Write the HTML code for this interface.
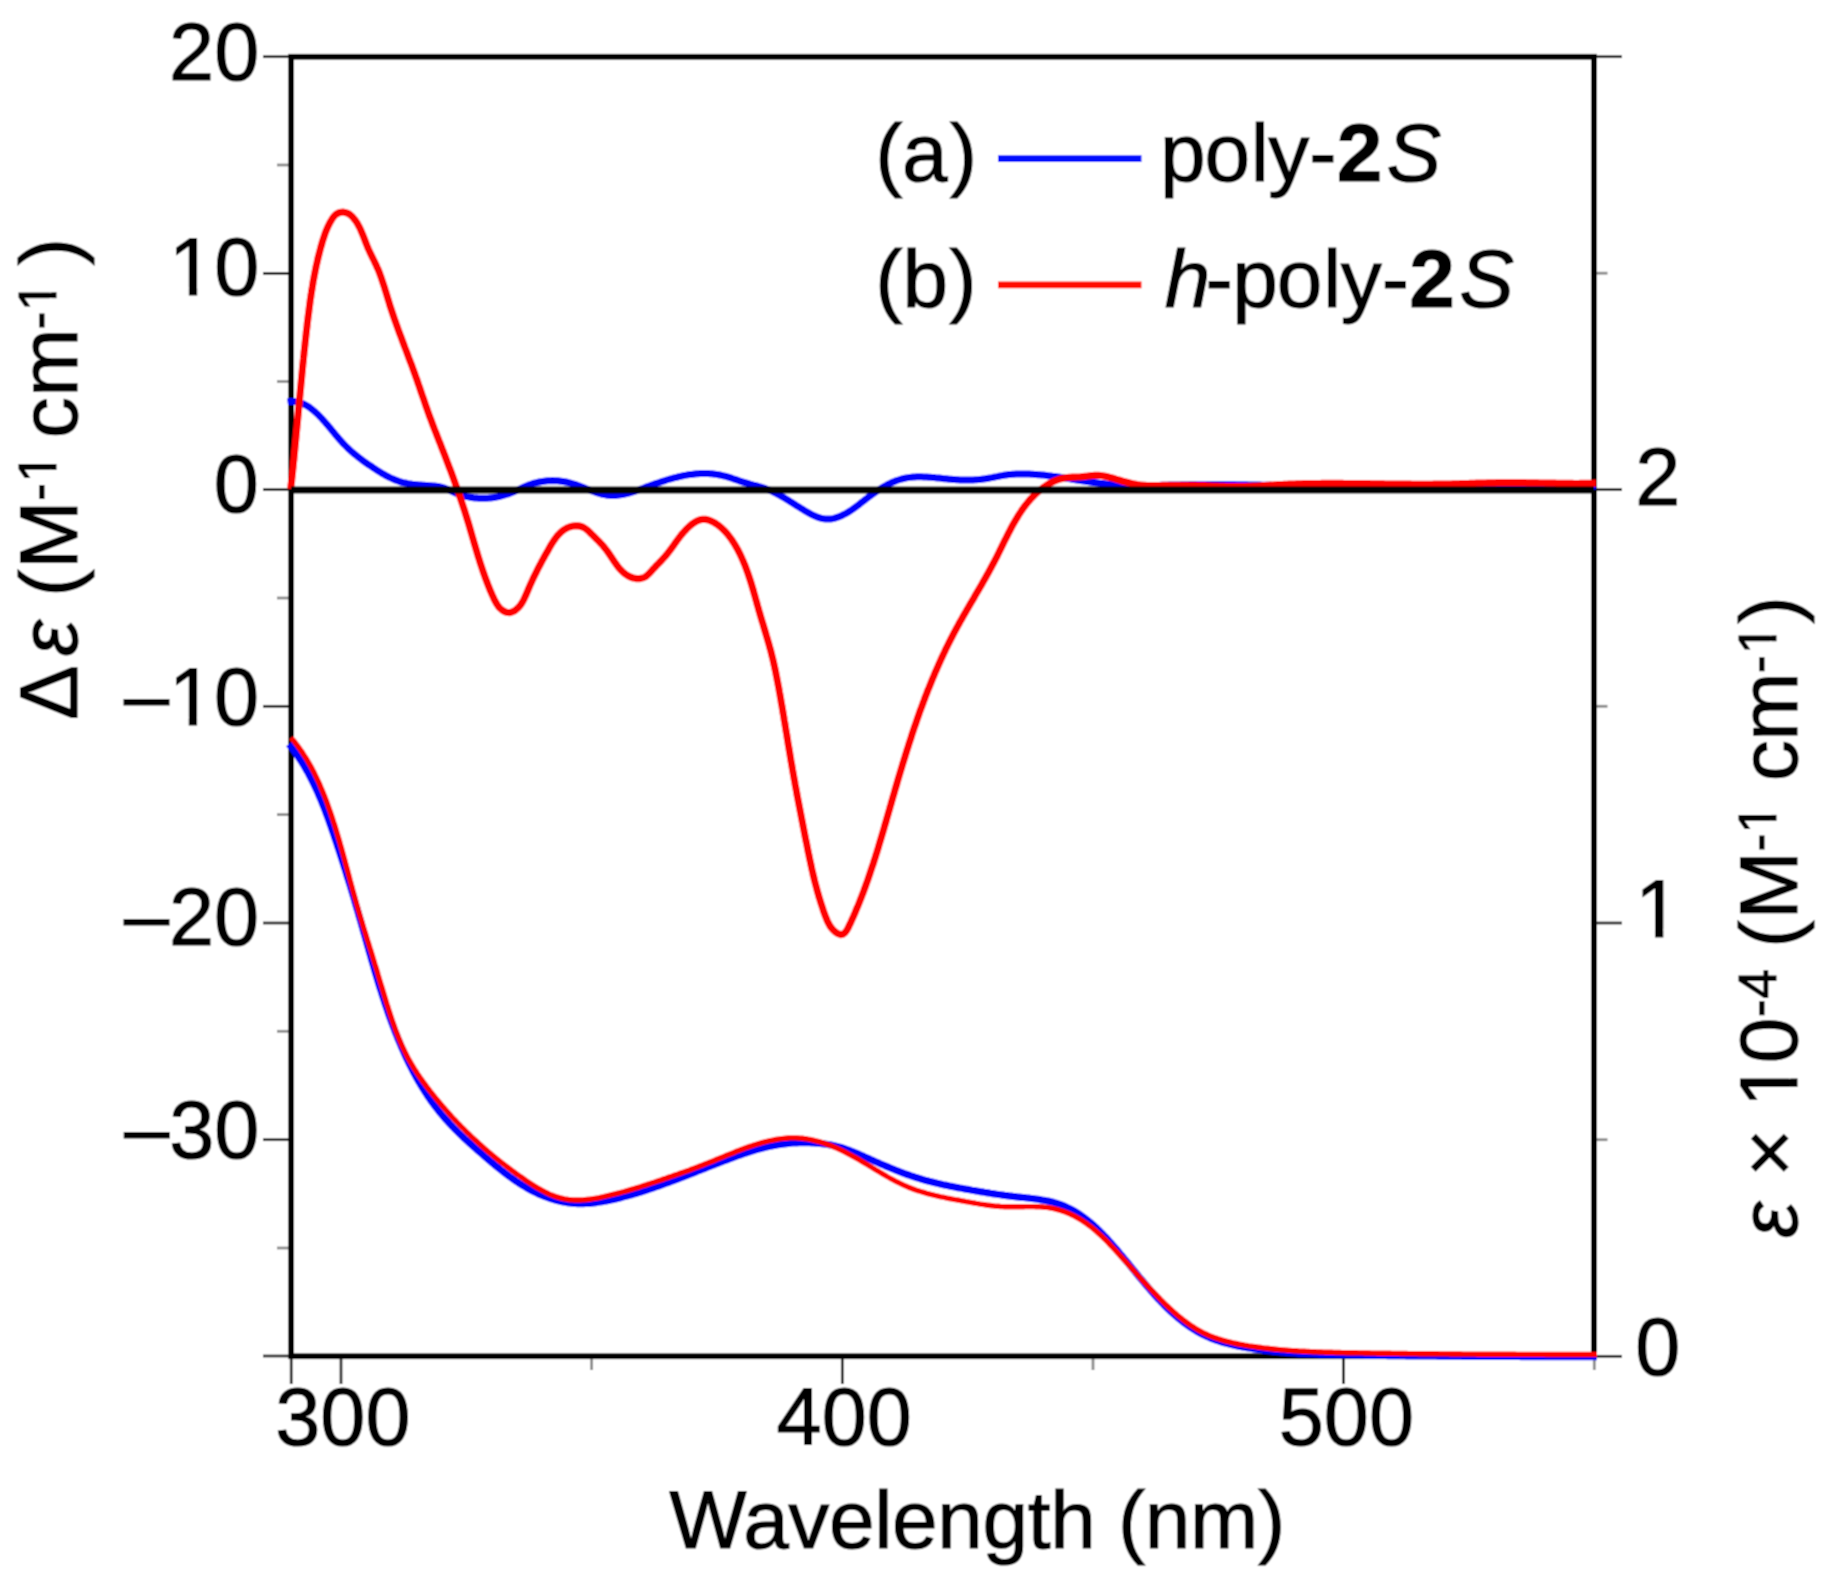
<!DOCTYPE html>
<html><head><meta charset="utf-8"><title>CD and UV spectra</title>
<style>html,body{margin:0;padding:0;background:#fff;}svg{display:block;}</style></head><body>
<svg xmlns="http://www.w3.org/2000/svg" width="1831" height="1587" viewBox="0 0 1831 1587">
<defs><filter id="soft" x="0" y="0" width="1831" height="1587" filterUnits="userSpaceOnUse"><feConvolveMatrix order="3" kernelMatrix="1 2 1 2 4 2 1 2 1" divisor="16" edgeMode="duplicate" preserveAlpha="false"/></filter></defs>
<g filter="url(#soft)">
<rect x="0" y="0" width="1831" height="1587" fill="#fff"/>
<g stroke="#1a1a1a" stroke-width="2.7" fill="none">
<line x1="263" y1="56.7" x2="291.1" y2="56.7"/>
<line x1="263" y1="273.4" x2="291.1" y2="273.4"/>
<line x1="263" y1="489.6" x2="291.1" y2="489.6"/>
<line x1="263" y1="706.3" x2="291.1" y2="706.3"/>
<line x1="263" y1="923.0" x2="291.1" y2="923.0"/>
<line x1="263" y1="1139.7" x2="291.1" y2="1139.7"/>
<line x1="263" y1="1356.0" x2="291.1" y2="1356.0"/>
<line x1="1594.0" y1="56.7" x2="1622" y2="56.7"/>
<line x1="1594.0" y1="489.6" x2="1622" y2="489.6"/>
<line x1="1594.0" y1="923.0" x2="1622" y2="923.0"/>
<line x1="1594.0" y1="1356.3" x2="1622" y2="1356.3"/>
<line x1="291.2" y1="1356.2" x2="291.2" y2="1384"/>
<line x1="341.0" y1="1356.2" x2="341.0" y2="1384"/>
<line x1="842.3" y1="1356.2" x2="842.3" y2="1384"/>
<line x1="1343.5" y1="1356.2" x2="1343.5" y2="1384"/>
</g>
<g stroke="#8c8c8c" stroke-width="2.8" fill="none">
<line x1="277" y1="165.0" x2="291.1" y2="165.0"/>
<line x1="277" y1="381.5" x2="291.1" y2="381.5"/>
<line x1="277" y1="598.0" x2="291.1" y2="598.0"/>
<line x1="277" y1="814.6" x2="291.1" y2="814.6"/>
<line x1="277" y1="1031.3" x2="291.1" y2="1031.3"/>
<line x1="277" y1="1248.0" x2="291.1" y2="1248.0"/>
<line x1="1594.0" y1="273.2" x2="1607.5" y2="273.2"/>
<line x1="1594.0" y1="706.3" x2="1607.5" y2="706.3"/>
<line x1="1594.0" y1="1139.7" x2="1607.5" y2="1139.7"/>
<line x1="591.6" y1="1356.2" x2="591.6" y2="1370"/>
<line x1="1093.0" y1="1356.2" x2="1093.0" y2="1370"/>
<line x1="1594.3" y1="1356.2" x2="1594.3" y2="1370"/>
</g>
<rect x="291.1" y="56.8" width="1302.9" height="1299.4" fill="none" stroke="#000" stroke-width="5.8"/>
<g fill="none" stroke-linejoin="round" stroke-linecap="butt">
<path d="M288.9,744.1 L290.2,745.7 L291.5,747.4 L292.8,749.0 L294.1,750.7 L295.3,752.4 L296.5,754.1 L297.7,755.9 L298.8,757.6 L300.0,759.3 L301.1,761.1 L302.2,762.8 L303.3,764.6 L304.4,766.4 L305.4,768.2 L306.4,770.0 L307.5,771.8 L308.5,773.6 L309.4,775.5 L310.4,777.3 L311.3,779.1 L312.3,781.0 L313.2,782.8 L314.1,784.7 L315.0,786.6 L315.9,788.5 L316.7,790.3 L317.6,792.2 L318.4,794.1 L319.2,796.0 L320.1,798.0 L320.9,799.9 L321.7,801.8 L322.4,803.7 L323.2,805.7 L324.0,807.6 L324.7,809.5 L325.5,811.5 L326.2,813.4 L326.9,815.4 L327.7,817.3 L328.4,819.3 L329.1,821.2 L329.8,823.2 L330.5,825.2 L331.2,827.1 L331.8,829.1 L332.5,831.1 L333.2,833.0 L333.9,835.0 L334.5,837.0 L335.2,839.0 L335.9,840.9 L336.5,842.9 L337.2,844.9 L337.8,846.9 L338.5,848.8 L339.1,850.8 L339.8,852.8 L340.4,854.8 L341.1,856.8 L341.7,858.7 L342.3,860.7 L343.0,862.7 L343.6,864.7 L344.2,866.7 L344.9,868.7 L345.5,870.6 L346.1,872.6 L346.7,874.6 L347.3,876.6 L347.9,878.6 L348.6,880.6 L349.2,882.6 L349.8,884.5 L350.4,886.5 L351.0,888.5 L351.6,890.5 L352.2,892.5 L352.8,894.5 L353.4,896.5 L354.0,898.5 L354.6,900.5 L355.1,902.5 L355.7,904.5 L356.3,906.5 L356.9,908.5 L357.5,910.4 L358.1,912.4 L358.6,914.4 L359.2,916.4 L359.8,918.4 L360.4,920.4 L361.0,922.4 L361.5,924.4 L362.1,926.4 L362.7,928.4 L363.2,930.4 L363.8,932.4 L364.4,934.4 L365.0,936.4 L365.5,938.4 L366.1,940.4 L366.7,942.4 L367.2,944.4 L367.8,946.4 L368.4,948.4 L368.9,950.4 L369.5,952.4 L370.1,954.4 L370.7,956.4 L371.2,958.4 L371.8,960.4 L372.4,962.4 L373.0,964.4 L373.6,966.4 L374.1,968.4 L374.7,970.4 L375.3,972.4 L375.9,974.4 L376.5,976.4 L377.1,978.4 L377.7,980.4 L378.3,982.4 L378.9,984.4 L379.5,986.4 L380.1,988.3 L380.8,990.3 L381.4,992.3 L382.0,994.3 L382.7,996.3 L383.3,998.2 L384.0,1000.2 L384.6,1002.2 L385.3,1004.2 L385.9,1006.1 L386.6,1008.1 L387.3,1010.1 L387.9,1012.0 L388.6,1014.0 L389.3,1016.0 L390.0,1017.9 L390.7,1019.9 L391.4,1021.8 L392.2,1023.8 L392.9,1025.7 L393.6,1027.7 L394.4,1029.6 L395.1,1031.6 L395.9,1033.5 L396.7,1035.4 L397.4,1037.4 L398.2,1039.3 L399.0,1041.2 L399.8,1043.1 L400.7,1045.1 L401.5,1047.0 L402.3,1048.9 L403.2,1050.8 L404.0,1052.7 L404.9,1054.6 L405.7,1056.5 L406.6,1058.4 L407.5,1060.3 L408.4,1062.1 L409.3,1064.0 L410.3,1065.9 L411.2,1067.7 L412.2,1069.6 L413.1,1071.4 L414.1,1073.3 L415.1,1075.1 L416.1,1076.9 L417.1,1078.7 L418.1,1080.5 L419.2,1082.3 L420.2,1084.1 L421.3,1085.9 L422.4,1087.7 L423.5,1089.4 L424.6,1091.2 L425.7,1092.9 L426.8,1094.6 L428.0,1096.4 L429.2,1098.1 L430.3,1099.8 L431.5,1101.5 L432.7,1103.1 L434.0,1104.8 L435.2,1106.5 L436.5,1108.1 L437.7,1109.7 L439.0,1111.4 L440.3,1113.0 L441.6,1114.5 L443.0,1116.1 L444.3,1117.7 L445.7,1119.3 L447.1,1120.8 L448.5,1122.3 L449.9,1123.9 L451.3,1125.4 L452.8,1126.9 L454.2,1128.4 L455.7,1129.8 L457.1,1131.3 L458.6,1132.8 L460.1,1134.2 L461.6,1135.7 L463.1,1137.1 L464.6,1138.6 L466.2,1140.0 L467.7,1141.4 L469.2,1142.8 L470.8,1144.2 L472.3,1145.6 L473.9,1147.0 L475.5,1148.4 L477.0,1149.8 L478.6,1151.2 L480.2,1152.5 L481.8,1153.9 L483.4,1155.3 L484.9,1156.7 L486.5,1158.0 L488.1,1159.4 L489.7,1160.7 L491.3,1162.1 L492.9,1163.4 L494.5,1164.8 L496.2,1166.1 L497.8,1167.4 L499.4,1168.7 L501.0,1170.0 L502.7,1171.3 L504.3,1172.6 L506.0,1173.9 L507.6,1175.1 L509.3,1176.4 L511.0,1177.6 L512.7,1178.8 L514.4,1180.0 L516.1,1181.2 L517.8,1182.3 L519.5,1183.5 L521.3,1184.6 L523.0,1185.7 L524.8,1186.7 L526.6,1187.8 L528.4,1188.8 L530.2,1189.8 L532.0,1190.8 L533.9,1191.7 L535.8,1192.6 L537.6,1193.5 L539.5,1194.4 L541.4,1195.2 L543.4,1196.0 L545.3,1196.7 L547.2,1197.4 L549.2,1198.1 L551.2,1198.8 L553.1,1199.4 L555.1,1200.0 L557.1,1200.5 L559.1,1201.0 L561.1,1201.5 L563.1,1201.9 L565.2,1202.3 L567.2,1202.6 L569.2,1202.9 L571.3,1203.1 L573.3,1203.3 L575.4,1203.5 L577.4,1203.6 L579.5,1203.6 L581.6,1203.6 L583.6,1203.6 L585.7,1203.5 L587.7,1203.4 L589.8,1203.3 L591.9,1203.1 L594.0,1202.9 L596.0,1202.6 L598.1,1202.3 L600.2,1202.0 L602.2,1201.7 L604.3,1201.3 L606.4,1200.9 L608.4,1200.5 L610.5,1200.1 L612.5,1199.6 L614.6,1199.2 L616.6,1198.7 L618.7,1198.2 L620.7,1197.7 L622.7,1197.1 L624.7,1196.6 L626.8,1196.1 L628.8,1195.5 L630.8,1194.9 L632.8,1194.4 L634.8,1193.8 L636.8,1193.2 L638.8,1192.6 L640.8,1192.0 L642.8,1191.3 L644.8,1190.7 L646.8,1190.0 L648.7,1189.4 L650.7,1188.7 L652.7,1188.1 L654.6,1187.4 L656.6,1186.7 L658.6,1186.0 L660.5,1185.3 L662.5,1184.6 L664.4,1183.9 L666.4,1183.2 L668.3,1182.5 L670.3,1181.8 L672.2,1181.0 L674.2,1180.3 L676.1,1179.6 L678.1,1178.8 L680.0,1178.1 L681.9,1177.4 L683.9,1176.6 L685.8,1175.9 L687.8,1175.1 L689.7,1174.3 L691.6,1173.6 L693.6,1172.8 L695.5,1172.1 L697.4,1171.3 L699.3,1170.5 L701.3,1169.8 L703.2,1169.0 L705.1,1168.3 L707.1,1167.5 L709.0,1166.7 L710.9,1166.0 L712.9,1165.2 L714.8,1164.5 L716.7,1163.7 L718.7,1163.0 L720.6,1162.2 L722.5,1161.5 L724.5,1160.7 L726.4,1160.0 L728.3,1159.3 L730.3,1158.5 L732.2,1157.8 L734.2,1157.1 L736.1,1156.4 L738.1,1155.7 L740.0,1155.0 L742.0,1154.3 L743.9,1153.6 L745.9,1153.0 L747.9,1152.3 L749.9,1151.7 L751.8,1151.1 L753.8,1150.5 L755.8,1149.9 L757.8,1149.3 L759.8,1148.8 L761.8,1148.2 L763.8,1147.7 L765.8,1147.2 L767.8,1146.8 L769.9,1146.3 L771.9,1145.9 L774.0,1145.5 L776.0,1145.1 L778.1,1144.8 L780.1,1144.4 L782.2,1144.1 L784.3,1143.9 L786.4,1143.6 L788.5,1143.4 L790.6,1143.2 L792.7,1143.0 L794.8,1142.9 L796.9,1142.8 L799.0,1142.7 L801.1,1142.7 L803.2,1142.6 L805.3,1142.6 L807.4,1142.7 L809.5,1142.7 L811.5,1142.8 L813.6,1142.9 L815.7,1143.1 L817.8,1143.2 L819.9,1143.4 L821.9,1143.6 L824.0,1143.9 L826.0,1144.2 L828.1,1144.5 L830.1,1144.9 L832.1,1145.3 L834.1,1145.7 L836.1,1146.2 L838.1,1146.7 L840.1,1147.2 L842.0,1147.8 L844.0,1148.4 L845.9,1149.1 L847.9,1149.8 L849.8,1150.5 L851.7,1151.3 L853.6,1152.0 L855.5,1152.8 L857.4,1153.6 L859.3,1154.4 L861.2,1155.3 L863.1,1156.1 L865.0,1157.0 L866.9,1157.8 L868.8,1158.6 L870.7,1159.5 L872.6,1160.3 L874.5,1161.2 L876.4,1162.0 L878.3,1162.8 L880.2,1163.7 L882.1,1164.5 L884.0,1165.3 L885.9,1166.1 L887.9,1166.9 L889.8,1167.7 L891.7,1168.5 L893.6,1169.3 L895.6,1170.1 L897.5,1170.8 L899.4,1171.6 L901.4,1172.3 L903.3,1173.1 L905.3,1173.8 L907.2,1174.5 L909.2,1175.2 L911.1,1175.9 L913.1,1176.5 L915.1,1177.2 L917.1,1177.8 L919.0,1178.4 L921.0,1179.0 L923.0,1179.6 L925.0,1180.2 L927.1,1180.7 L929.1,1181.3 L931.1,1181.8 L933.1,1182.3 L935.1,1182.8 L937.2,1183.3 L939.2,1183.7 L941.2,1184.2 L943.3,1184.7 L945.3,1185.1 L947.4,1185.5 L949.4,1186.0 L951.5,1186.4 L953.5,1186.8 L955.6,1187.2 L957.6,1187.6 L959.7,1188.0 L961.7,1188.3 L963.7,1188.7 L965.8,1189.1 L967.8,1189.4 L969.9,1189.8 L971.9,1190.2 L974.0,1190.5 L976.0,1190.9 L978.1,1191.2 L980.1,1191.6 L982.1,1191.9 L984.2,1192.3 L986.2,1192.6 L988.2,1192.9 L990.3,1193.3 L992.3,1193.6 L994.4,1193.9 L996.4,1194.2 L998.5,1194.5 L1000.5,1194.8 L1002.6,1195.1 L1004.6,1195.4 L1006.7,1195.6 L1008.8,1195.9 L1010.8,1196.1 L1012.9,1196.4 L1015.0,1196.6 L1017.1,1196.9 L1019.2,1197.1 L1021.3,1197.3 L1023.3,1197.5 L1025.4,1197.7 L1027.5,1198.0 L1029.6,1198.2 L1031.7,1198.5 L1033.8,1198.7 L1035.9,1199.0 L1038.0,1199.3 L1040.0,1199.6 L1042.1,1200.0 L1044.1,1200.3 L1046.2,1200.7 L1048.2,1201.1 L1050.2,1201.6 L1052.2,1202.1 L1054.2,1202.6 L1056.2,1203.2 L1058.1,1203.8 L1060.1,1204.5 L1062.0,1205.2 L1063.9,1205.9 L1065.8,1206.7 L1067.6,1207.6 L1069.5,1208.5 L1071.3,1209.4 L1073.1,1210.4 L1074.9,1211.4 L1076.7,1212.5 L1078.4,1213.6 L1080.1,1214.7 L1081.8,1215.9 L1083.5,1217.1 L1085.2,1218.4 L1086.9,1219.6 L1088.5,1221.0 L1090.1,1222.3 L1091.7,1223.6 L1093.3,1225.0 L1094.8,1226.4 L1096.4,1227.8 L1097.9,1229.3 L1099.4,1230.7 L1100.9,1232.2 L1102.4,1233.7 L1103.8,1235.2 L1105.3,1236.7 L1106.7,1238.3 L1108.1,1239.8 L1109.5,1241.4 L1110.9,1242.9 L1112.3,1244.5 L1113.7,1246.1 L1115.0,1247.6 L1116.4,1249.2 L1117.8,1250.8 L1119.1,1252.4 L1120.4,1254.0 L1121.8,1255.6 L1123.1,1257.2 L1124.4,1258.8 L1125.8,1260.4 L1127.1,1262.0 L1128.4,1263.6 L1129.7,1265.2 L1131.0,1266.8 L1132.3,1268.4 L1133.6,1270.0 L1134.9,1271.6 L1136.2,1273.2 L1137.5,1274.8 L1138.8,1276.4 L1140.1,1278.0 L1141.5,1279.6 L1142.8,1281.1 L1144.1,1282.7 L1145.4,1284.3 L1146.8,1285.9 L1148.1,1287.5 L1149.4,1289.0 L1150.8,1290.6 L1152.2,1292.2 L1153.5,1293.7 L1154.9,1295.3 L1156.3,1296.8 L1157.7,1298.4 L1159.2,1299.9 L1160.6,1301.4 L1162.1,1302.9 L1163.5,1304.4 L1165.0,1305.9 L1166.5,1307.4 L1168.0,1308.9 L1169.5,1310.3 L1171.1,1311.8 L1172.6,1313.2 L1174.2,1314.6 L1175.8,1316.0 L1177.4,1317.4 L1179.0,1318.7 L1180.6,1320.0 L1182.3,1321.3 L1183.9,1322.6 L1185.6,1323.9 L1187.3,1325.1 L1189.0,1326.3 L1190.7,1327.4 L1192.5,1328.6 L1194.2,1329.7 L1196.0,1330.8 L1197.8,1331.8 L1199.6,1332.8 L1201.4,1333.8 L1203.2,1334.7 L1205.1,1335.6 L1206.9,1336.5 L1208.8,1337.3 L1210.7,1338.1 L1212.6,1338.9 L1214.6,1339.6 L1216.5,1340.3 L1218.5,1340.9 L1220.4,1341.6 L1222.4,1342.2 L1224.4,1342.8 L1226.4,1343.3 L1228.4,1343.8 L1230.4,1344.3 L1232.4,1344.8 L1234.5,1345.3 L1236.5,1345.7 L1238.6,1346.1 L1240.6,1346.5 L1242.6,1346.9 L1244.7,1347.3 L1246.8,1347.6 L1248.8,1348.0 L1250.9,1348.3 L1252.9,1348.6 L1255.0,1348.9 L1257.1,1349.2 L1259.1,1349.5 L1261.2,1349.8 L1263.3,1350.1 L1265.3,1350.3 L1267.4,1350.6 L1269.5,1350.8 L1271.5,1351.1 L1273.6,1351.3 L1275.7,1351.5 L1277.7,1351.7 L1279.8,1351.9 L1281.9,1352.1 L1284.0,1352.2 L1286.0,1352.4 L1288.1,1352.6 L1290.2,1352.7 L1292.3,1352.9 L1294.3,1353.0 L1296.4,1353.2 L1298.5,1353.3 L1300.6,1353.4 L1302.6,1353.5 L1304.7,1353.7 L1306.8,1353.8 L1308.9,1353.9 L1310.9,1354.0 L1313.0,1354.0 L1315.1,1354.1 L1317.2,1354.2 L1319.3,1354.3 L1321.3,1354.4 L1323.4,1354.4 L1325.5,1354.5 L1327.6,1354.6 L1329.7,1354.6 L1331.7,1354.7 L1333.8,1354.7 L1335.9,1354.8 L1338.0,1354.8 L1340.1,1354.9 L1342.1,1354.9 L1344.2,1354.9 L1346.3,1355.0 L1348.4,1355.0 L1350.5,1355.0 L1352.5,1355.1 L1354.6,1355.1 L1356.7,1355.1 L1358.8,1355.2 L1360.9,1355.2 L1362.9,1355.2 L1365.0,1355.3 L1367.1,1355.3 L1369.2,1355.3 L1371.3,1355.3 L1373.4,1355.4 L1375.4,1355.4 L1377.5,1355.4 L1379.6,1355.5 L1381.7,1355.5 L1383.8,1355.5 L1385.8,1355.5 L1387.9,1355.6 L1390.0,1355.6 L1392.1,1355.6 L1394.2,1355.6 L1396.2,1355.7 L1398.3,1355.7 L1400.4,1355.7 L1402.5,1355.7 L1404.6,1355.7 L1406.6,1355.8 L1408.7,1355.8 L1410.8,1355.8 L1412.9,1355.8 L1415.0,1355.9 L1417.0,1355.9 L1419.1,1355.9 L1421.2,1355.9 L1423.3,1355.9 L1425.4,1356.0 L1427.4,1356.0 L1429.5,1356.0 L1431.6,1356.0 L1433.7,1356.0 L1435.8,1356.0 L1437.8,1356.1 L1439.9,1356.1 L1442.0,1356.1 L1444.1,1356.1 L1446.2,1356.1 L1448.2,1356.1 L1450.3,1356.2 L1452.4,1356.2 L1454.5,1356.2 L1456.6,1356.2 L1458.6,1356.2 L1460.7,1356.2 L1462.8,1356.3 L1464.9,1356.3 L1467.0,1356.3 L1469.0,1356.3 L1471.1,1356.3 L1473.2,1356.3 L1475.3,1356.3 L1477.4,1356.3 L1479.4,1356.4 L1481.5,1356.4 L1483.6,1356.4 L1485.7,1356.4 L1487.8,1356.4 L1489.8,1356.4 L1491.9,1356.4 L1494.0,1356.4 L1496.1,1356.4 L1498.2,1356.5 L1500.3,1356.5 L1502.3,1356.5 L1504.4,1356.5 L1506.5,1356.5 L1508.6,1356.5 L1510.7,1356.5 L1512.7,1356.5 L1514.8,1356.5 L1516.9,1356.5 L1519.0,1356.5 L1521.1,1356.6 L1523.1,1356.6 L1525.2,1356.6 L1527.3,1356.6 L1529.4,1356.6 L1531.5,1356.6 L1533.5,1356.6 L1535.6,1356.6 L1537.7,1356.6 L1539.8,1356.6 L1541.9,1356.6 L1543.9,1356.6 L1546.0,1356.6 L1548.1,1356.6 L1550.2,1356.6 L1552.3,1356.7 L1554.3,1356.7 L1556.4,1356.7 L1558.5,1356.7 L1560.6,1356.7 L1562.7,1356.7 L1564.7,1356.7 L1566.8,1356.7 L1568.9,1356.7 L1571.0,1356.7 L1573.1,1356.7 L1575.2,1356.7 L1577.2,1356.7 L1579.3,1356.7 L1581.4,1356.7 L1583.5,1356.7 L1585.6,1356.7 L1587.6,1356.7 L1589.7,1356.7 L1591.8,1356.7 L1593.9,1356.7 L1596.0,1356.7 L1597.0,1356.7" stroke="#0000ff" stroke-width="7.2"/>
<path d="M291.1,737.6 L292.4,739.2 L293.8,740.8 L295.1,742.4 L296.3,744.0 L297.6,745.7 L298.8,747.3 L300.0,749.0 L301.2,750.7 L302.4,752.4 L303.5,754.2 L304.6,755.9 L305.8,757.7 L306.8,759.4 L307.9,761.2 L308.9,763.0 L310.0,764.8 L311.0,766.6 L312.0,768.4 L312.9,770.2 L313.9,772.1 L314.8,773.9 L315.7,775.8 L316.6,777.7 L317.5,779.6 L318.4,781.4 L319.3,783.3 L320.1,785.3 L320.9,787.2 L321.7,789.1 L322.5,791.0 L323.3,792.9 L324.1,794.9 L324.9,796.8 L325.6,798.8 L326.4,800.7 L327.1,802.7 L327.8,804.6 L328.5,806.6 L329.2,808.6 L329.9,810.6 L330.6,812.5 L331.2,814.5 L331.9,816.5 L332.6,818.5 L333.2,820.5 L333.8,822.4 L334.5,824.4 L335.1,826.4 L335.7,828.4 L336.3,830.4 L336.9,832.4 L337.5,834.4 L338.1,836.4 L338.7,838.4 L339.3,840.4 L339.9,842.4 L340.4,844.4 L341.0,846.4 L341.6,848.4 L342.1,850.4 L342.7,852.4 L343.2,854.4 L343.8,856.4 L344.3,858.4 L344.9,860.4 L345.4,862.4 L345.9,864.4 L346.5,866.4 L347.0,868.4 L347.6,870.4 L348.1,872.4 L348.6,874.4 L349.2,876.4 L349.7,878.4 L350.2,880.4 L350.8,882.5 L351.3,884.5 L351.9,886.5 L352.4,888.5 L352.9,890.5 L353.5,892.5 L354.0,894.5 L354.6,896.5 L355.1,898.5 L355.7,900.5 L356.3,902.5 L356.8,904.5 L357.4,906.5 L358.0,908.5 L358.5,910.5 L359.1,912.5 L359.7,914.5 L360.3,916.5 L360.9,918.5 L361.5,920.5 L362.1,922.5 L362.7,924.5 L363.3,926.5 L363.9,928.5 L364.5,930.4 L365.2,932.4 L365.8,934.4 L366.4,936.4 L367.0,938.4 L367.6,940.4 L368.3,942.4 L368.9,944.4 L369.5,946.4 L370.1,948.4 L370.8,950.3 L371.4,952.3 L372.0,954.3 L372.6,956.3 L373.2,958.3 L373.8,960.3 L374.4,962.3 L375.0,964.3 L375.7,966.3 L376.3,968.2 L376.9,970.2 L377.5,972.2 L378.0,974.2 L378.6,976.2 L379.2,978.2 L379.8,980.2 L380.4,982.2 L381.0,984.2 L381.6,986.1 L382.2,988.1 L382.8,990.1 L383.4,992.1 L384.0,994.1 L384.6,996.1 L385.2,998.1 L385.8,1000.1 L386.4,1002.1 L387.0,1004.1 L387.7,1006.0 L388.3,1008.0 L388.9,1010.0 L389.5,1012.0 L390.2,1014.0 L390.8,1016.0 L391.5,1018.0 L392.1,1019.9 L392.8,1021.9 L393.5,1023.9 L394.2,1025.8 L394.9,1027.8 L395.6,1029.8 L396.3,1031.7 L397.1,1033.6 L397.8,1035.6 L398.6,1037.5 L399.4,1039.4 L400.2,1041.4 L401.0,1043.3 L401.8,1045.2 L402.7,1047.1 L403.6,1048.9 L404.5,1050.8 L405.4,1052.7 L406.3,1054.5 L407.3,1056.4 L408.2,1058.2 L409.2,1060.0 L410.3,1061.8 L411.3,1063.6 L412.4,1065.4 L413.4,1067.2 L414.5,1069.0 L415.7,1070.7 L416.8,1072.5 L417.9,1074.2 L419.1,1075.9 L420.3,1077.7 L421.5,1079.4 L422.7,1081.1 L423.9,1082.8 L425.2,1084.4 L426.4,1086.1 L427.7,1087.8 L428.9,1089.4 L430.2,1091.1 L431.5,1092.7 L432.8,1094.4 L434.1,1096.0 L435.4,1097.6 L436.7,1099.2 L438.0,1100.8 L439.4,1102.4 L440.7,1104.0 L442.1,1105.6 L443.4,1107.2 L444.8,1108.7 L446.2,1110.3 L447.5,1111.8 L448.9,1113.4 L450.3,1114.9 L451.7,1116.5 L453.1,1118.0 L454.5,1119.5 L456.0,1121.0 L457.4,1122.5 L458.8,1124.0 L460.3,1125.5 L461.7,1127.0 L463.2,1128.4 L464.7,1129.9 L466.1,1131.3 L467.6,1132.8 L469.1,1134.2 L470.6,1135.7 L472.1,1137.1 L473.6,1138.5 L475.1,1139.9 L476.7,1141.3 L478.2,1142.7 L479.7,1144.1 L481.3,1145.5 L482.8,1146.9 L484.4,1148.3 L486.0,1149.6 L487.5,1151.0 L489.1,1152.3 L490.7,1153.7 L492.3,1155.0 L493.9,1156.3 L495.5,1157.7 L497.1,1159.0 L498.8,1160.3 L500.4,1161.6 L502.0,1162.9 L503.7,1164.2 L505.3,1165.4 L507.0,1166.7 L508.7,1168.0 L510.3,1169.2 L512.0,1170.5 L513.7,1171.7 L515.4,1173.0 L517.1,1174.2 L518.8,1175.4 L520.5,1176.6 L522.3,1177.8 L524.0,1179.0 L525.7,1180.2 L527.5,1181.4 L529.2,1182.6 L531.0,1183.7 L532.7,1184.9 L534.5,1186.0 L536.3,1187.1 L538.1,1188.2 L539.9,1189.2 L541.7,1190.2 L543.6,1191.2 L545.4,1192.1 L547.2,1193.0 L549.1,1193.9 L551.0,1194.7 L552.9,1195.4 L554.7,1196.2 L556.7,1196.8 L558.6,1197.4 L560.5,1198.0 L562.5,1198.4 L564.4,1198.9 L566.4,1199.2 L568.4,1199.5 L570.4,1199.7 L572.4,1199.9 L574.5,1200.0 L576.5,1200.0 L578.6,1200.0 L580.6,1200.0 L582.7,1199.9 L584.8,1199.7 L586.9,1199.5 L589.0,1199.3 L591.1,1199.0 L593.1,1198.7 L595.2,1198.3 L597.3,1198.0 L599.4,1197.6 L601.5,1197.1 L603.6,1196.7 L605.7,1196.2 L607.8,1195.7 L609.9,1195.2 L611.9,1194.7 L614.0,1194.2 L616.0,1193.7 L618.1,1193.1 L620.1,1192.6 L622.2,1192.0 L624.2,1191.5 L626.2,1190.9 L628.2,1190.3 L630.3,1189.7 L632.3,1189.1 L634.3,1188.5 L636.3,1187.9 L638.3,1187.3 L640.2,1186.7 L642.2,1186.0 L644.2,1185.4 L646.2,1184.8 L648.1,1184.1 L650.1,1183.5 L652.1,1182.8 L654.0,1182.2 L656.0,1181.5 L657.9,1180.9 L659.9,1180.2 L661.8,1179.6 L663.8,1178.9 L665.7,1178.3 L667.6,1177.6 L669.6,1176.9 L671.5,1176.3 L673.4,1175.6 L675.4,1174.9 L677.3,1174.3 L679.2,1173.6 L681.1,1172.9 L683.1,1172.2 L685.0,1171.5 L686.9,1170.9 L688.8,1170.2 L690.8,1169.4 L692.7,1168.7 L694.6,1168.0 L696.6,1167.3 L698.5,1166.6 L700.4,1165.8 L702.4,1165.1 L704.3,1164.3 L706.2,1163.5 L708.2,1162.8 L710.1,1162.0 L712.1,1161.2 L714.1,1160.4 L716.0,1159.6 L718.0,1158.8 L719.9,1158.0 L721.9,1157.2 L723.9,1156.4 L725.8,1155.6 L727.8,1154.8 L729.8,1154.0 L731.8,1153.2 L733.8,1152.4 L735.7,1151.6 L737.7,1150.8 L739.7,1150.1 L741.7,1149.3 L743.7,1148.6 L745.7,1147.8 L747.7,1147.1 L749.7,1146.4 L751.7,1145.8 L753.7,1145.1 L755.7,1144.5 L757.7,1143.9 L759.7,1143.3 L761.7,1142.7 L763.7,1142.2 L765.7,1141.6 L767.7,1141.2 L769.8,1140.7 L771.8,1140.3 L773.8,1139.9 L775.8,1139.5 L777.8,1139.2 L779.8,1138.9 L781.8,1138.6 L783.8,1138.4 L785.9,1138.2 L787.9,1138.0 L789.9,1137.9 L791.9,1137.9 L793.9,1137.9 L795.9,1137.9 L797.9,1138.0 L799.9,1138.1 L802.0,1138.2 L804.0,1138.5 L806.0,1138.7 L808.0,1139.1 L810.0,1139.4 L812.0,1139.8 L814.0,1140.3 L816.0,1140.8 L818.0,1141.3 L820.0,1141.9 L822.0,1142.5 L824.0,1143.2 L826.0,1143.9 L827.9,1144.6 L829.9,1145.3 L831.9,1146.1 L833.8,1146.9 L835.8,1147.8 L837.7,1148.6 L839.6,1149.5 L841.6,1150.4 L843.5,1151.4 L845.4,1152.3 L847.3,1153.3 L849.2,1154.3 L851.1,1155.3 L852.9,1156.3 L854.8,1157.3 L856.7,1158.4 L858.5,1159.4 L860.3,1160.5 L862.1,1161.6 L863.9,1162.6 L865.7,1163.7 L867.5,1164.8 L869.3,1165.9 L871.1,1166.9 L872.8,1168.0 L874.6,1169.1 L876.4,1170.2 L878.1,1171.2 L879.9,1172.3 L881.7,1173.4 L883.4,1174.4 L885.2,1175.4 L887.0,1176.5 L888.8,1177.5 L890.5,1178.5 L892.3,1179.4 L894.1,1180.4 L895.9,1181.4 L897.8,1182.3 L899.6,1183.2 L901.4,1184.1 L903.3,1184.9 L905.1,1185.8 L907.0,1186.6 L908.9,1187.4 L910.8,1188.1 L912.7,1188.9 L914.7,1189.6 L916.6,1190.3 L918.6,1190.9 L920.6,1191.5 L922.6,1192.1 L924.6,1192.7 L926.6,1193.3 L928.6,1193.8 L930.7,1194.4 L932.7,1194.9 L934.8,1195.4 L936.8,1195.8 L938.9,1196.3 L941.0,1196.8 L943.0,1197.2 L945.1,1197.6 L947.2,1198.1 L949.3,1198.5 L951.3,1198.9 L953.4,1199.3 L955.5,1199.7 L957.5,1200.0 L959.6,1200.4 L961.7,1200.8 L963.7,1201.2 L965.8,1201.6 L967.8,1201.9 L969.9,1202.3 L971.9,1202.7 L973.9,1203.0 L976.0,1203.4 L978.0,1203.7 L980.0,1204.1 L982.0,1204.4 L984.1,1204.7 L986.1,1205.0 L988.1,1205.3 L990.2,1205.5 L992.2,1205.7 L994.2,1206.0 L996.3,1206.2 L998.3,1206.3 L1000.4,1206.5 L1002.5,1206.6 L1004.5,1206.7 L1006.6,1206.8 L1008.7,1206.8 L1010.8,1206.8 L1012.9,1206.8 L1015.0,1206.8 L1017.1,1206.8 L1019.2,1206.7 L1021.3,1206.7 L1023.4,1206.7 L1025.5,1206.6 L1027.7,1206.6 L1029.8,1206.6 L1031.9,1206.6 L1034.0,1206.6 L1036.1,1206.7 L1038.2,1206.8 L1040.2,1206.9 L1042.3,1207.0 L1044.4,1207.2 L1046.5,1207.4 L1048.5,1207.7 L1050.5,1208.0 L1052.6,1208.4 L1054.6,1208.8 L1056.6,1209.3 L1058.6,1209.9 L1060.5,1210.5 L1062.5,1211.1 L1064.4,1211.8 L1066.3,1212.5 L1068.2,1213.3 L1070.1,1214.1 L1072.0,1215.0 L1073.9,1215.9 L1075.7,1216.9 L1077.5,1217.9 L1079.3,1218.9 L1081.1,1220.0 L1082.8,1221.1 L1084.5,1222.3 L1086.3,1223.4 L1087.9,1224.7 L1089.6,1225.9 L1091.3,1227.2 L1092.9,1228.5 L1094.5,1229.8 L1096.1,1231.2 L1097.6,1232.6 L1099.2,1234.0 L1100.7,1235.4 L1102.3,1236.8 L1103.8,1238.3 L1105.3,1239.7 L1106.7,1241.2 L1108.2,1242.7 L1109.7,1244.3 L1111.1,1245.8 L1112.6,1247.3 L1114.0,1248.8 L1115.4,1250.4 L1116.8,1251.9 L1118.2,1253.5 L1119.6,1255.0 L1121.0,1256.6 L1122.4,1258.1 L1123.8,1259.7 L1125.2,1261.2 L1126.6,1262.7 L1128.0,1264.3 L1129.4,1265.8 L1130.7,1267.4 L1132.1,1268.9 L1133.5,1270.4 L1134.9,1272.0 L1136.3,1273.5 L1137.6,1275.0 L1139.0,1276.5 L1140.4,1278.1 L1141.8,1279.6 L1143.2,1281.1 L1144.6,1282.6 L1146.0,1284.1 L1147.4,1285.6 L1148.8,1287.2 L1150.2,1288.7 L1151.6,1290.2 L1153.1,1291.7 L1154.5,1293.2 L1156.0,1294.7 L1157.4,1296.2 L1158.9,1297.7 L1160.3,1299.2 L1161.8,1300.6 L1163.3,1302.1 L1164.8,1303.6 L1166.3,1305.1 L1167.9,1306.5 L1169.4,1308.0 L1171.0,1309.4 L1172.5,1310.8 L1174.1,1312.2 L1175.7,1313.6 L1177.3,1315.0 L1178.9,1316.3 L1180.5,1317.7 L1182.2,1319.0 L1183.8,1320.3 L1185.5,1321.5 L1187.2,1322.8 L1188.9,1324.0 L1190.6,1325.2 L1192.3,1326.3 L1194.1,1327.4 L1195.8,1328.5 L1197.6,1329.6 L1199.4,1330.6 L1201.2,1331.6 L1203.0,1332.6 L1204.9,1333.5 L1206.7,1334.3 L1208.6,1335.2 L1210.5,1336.0 L1212.4,1336.7 L1214.4,1337.5 L1216.3,1338.1 L1218.3,1338.8 L1220.2,1339.4 L1222.2,1340.0 L1224.2,1340.6 L1226.2,1341.2 L1228.2,1341.7 L1230.2,1342.2 L1232.2,1342.7 L1234.3,1343.1 L1236.3,1343.5 L1238.4,1344.0 L1240.4,1344.3 L1242.5,1344.7 L1244.5,1345.1 L1246.6,1345.4 L1248.6,1345.8 L1250.7,1346.1 L1252.8,1346.4 L1254.8,1346.7 L1256.9,1347.0 L1259.0,1347.3 L1261.0,1347.5 L1263.1,1347.8 L1265.2,1348.1 L1267.2,1348.3 L1269.3,1348.5 L1271.4,1348.8 L1273.5,1349.0 L1275.5,1349.2 L1277.6,1349.4 L1279.7,1349.6 L1281.8,1349.8 L1283.8,1349.9 L1285.9,1350.1 L1288.0,1350.3 L1290.0,1350.4 L1292.1,1350.6 L1294.2,1350.7 L1296.3,1350.8 L1298.4,1351.0 L1300.4,1351.1 L1302.5,1351.2 L1304.6,1351.3 L1306.7,1351.4 L1308.7,1351.5 L1310.8,1351.6 L1312.9,1351.7 L1315.0,1351.8 L1317.1,1351.9 L1319.1,1352.0 L1321.2,1352.0 L1323.3,1352.1 L1325.4,1352.2 L1327.5,1352.2 L1329.5,1352.3 L1331.6,1352.3 L1333.7,1352.4 L1335.8,1352.5 L1337.9,1352.5 L1339.9,1352.5 L1342.0,1352.6 L1344.1,1352.6 L1346.2,1352.7 L1348.3,1352.7 L1350.3,1352.7 L1352.4,1352.8 L1354.5,1352.8 L1356.6,1352.8 L1358.7,1352.9 L1360.7,1352.9 L1362.8,1352.9 L1364.9,1353.0 L1367.0,1353.0 L1369.1,1353.0 L1371.2,1353.1 L1373.2,1353.1 L1375.3,1353.1 L1377.4,1353.2 L1379.5,1353.2 L1381.6,1353.2 L1383.6,1353.2 L1385.7,1353.3 L1387.8,1353.3 L1389.9,1353.3 L1392.0,1353.4 L1394.1,1353.4 L1396.1,1353.4 L1398.2,1353.4 L1400.3,1353.5 L1402.4,1353.5 L1404.5,1353.5 L1406.5,1353.5 L1408.6,1353.6 L1410.7,1353.6 L1412.8,1353.6 L1414.9,1353.6 L1416.9,1353.6 L1419.0,1353.7 L1421.1,1353.7 L1423.2,1353.7 L1425.3,1353.7 L1427.4,1353.8 L1429.4,1353.8 L1431.5,1353.8 L1433.6,1353.8 L1435.7,1353.8 L1437.8,1353.8 L1439.8,1353.9 L1441.9,1353.9 L1444.0,1353.9 L1446.1,1353.9 L1448.2,1353.9 L1450.3,1354.0 L1452.3,1354.0 L1454.4,1354.0 L1456.5,1354.0 L1458.6,1354.0 L1460.7,1354.0 L1462.7,1354.1 L1464.8,1354.1 L1466.9,1354.1 L1469.0,1354.1 L1471.1,1354.1 L1473.1,1354.1 L1475.2,1354.1 L1477.3,1354.2 L1479.4,1354.2 L1481.5,1354.2 L1483.6,1354.2 L1485.6,1354.2 L1487.7,1354.2 L1489.8,1354.2 L1491.9,1354.2 L1494.0,1354.3 L1496.0,1354.3 L1498.1,1354.3 L1500.2,1354.3 L1502.3,1354.3 L1504.4,1354.3 L1506.5,1354.3 L1508.5,1354.3 L1510.6,1354.3 L1512.7,1354.3 L1514.8,1354.3 L1516.9,1354.4 L1518.9,1354.4 L1521.0,1354.4 L1523.1,1354.4 L1525.2,1354.4 L1527.3,1354.4 L1529.3,1354.4 L1531.4,1354.4 L1533.5,1354.4 L1535.6,1354.4 L1537.7,1354.4 L1539.8,1354.4 L1541.8,1354.4 L1543.9,1354.4 L1546.0,1354.5 L1548.1,1354.5 L1550.2,1354.5 L1552.2,1354.5 L1554.3,1354.5 L1556.4,1354.5 L1558.5,1354.5 L1560.6,1354.5 L1562.7,1354.5 L1564.7,1354.5 L1566.8,1354.5 L1568.9,1354.5 L1571.0,1354.5 L1573.1,1354.5 L1575.1,1354.5 L1577.2,1354.5 L1579.3,1354.5 L1581.4,1354.5 L1583.5,1354.5 L1585.6,1354.5 L1587.6,1354.5 L1589.7,1354.5 L1591.8,1354.5 L1593.9,1354.5 L1596.0,1354.5 L1597.0,1354.5" stroke="#ff0000" stroke-width="5.4"/>
<path d="M287.5,401.9 L289.3,401.6 L291.1,401.5 L292.8,401.5 L294.5,401.5 L296.2,401.7 L297.8,402.0 L299.4,402.5 L301.0,403.0 L302.6,403.6 L304.1,404.2 L305.6,405.0 L307.0,405.8 L308.5,406.7 L309.9,407.7 L311.2,408.7 L312.6,409.8 L313.9,410.9 L315.2,412.0 L316.5,413.2 L317.8,414.4 L319.0,415.6 L320.2,416.9 L321.4,418.1 L322.6,419.4 L323.7,420.7 L324.9,422.0 L326.0,423.3 L327.2,424.6 L328.3,425.9 L329.4,427.3 L330.5,428.6 L331.6,429.9 L332.7,431.3 L333.8,432.6 L334.9,433.9 L336.0,435.2 L337.1,436.5 L338.2,437.9 L339.3,439.1 L340.4,440.4 L341.6,441.7 L342.7,443.0 L343.9,444.2 L345.1,445.4 L346.3,446.6 L347.5,447.8 L348.7,449.0 L350.0,450.1 L351.2,451.3 L352.5,452.4 L353.8,453.5 L355.1,454.6 L356.4,455.6 L357.8,456.7 L359.1,457.7 L360.5,458.8 L361.8,459.8 L363.2,460.8 L364.6,461.8 L366.0,462.8 L367.4,463.8 L368.8,464.8 L370.3,465.7 L371.7,466.7 L373.1,467.7 L374.6,468.6 L376.1,469.6 L377.5,470.5 L379.0,471.4 L380.5,472.4 L381.9,473.3 L383.4,474.1 L384.9,475.0 L386.5,475.8 L388.0,476.6 L389.5,477.4 L391.1,478.1 L392.6,478.8 L394.2,479.5 L395.8,480.2 L397.4,480.7 L399.0,481.3 L400.6,481.8 L402.2,482.3 L403.9,482.7 L405.5,483.0 L407.2,483.4 L408.9,483.7 L410.5,483.9 L412.2,484.2 L413.9,484.4 L415.6,484.6 L417.3,484.7 L419.0,484.9 L420.8,485.0 L422.5,485.2 L424.2,485.3 L425.9,485.4 L427.6,485.5 L429.3,485.7 L431.0,485.8 L432.7,486.0 L434.4,486.1 L436.1,486.3 L437.8,486.5 L439.5,486.8 L441.1,487.1 L442.8,487.6 L444.4,488.1 L446.0,488.7 L447.5,489.3 L449.1,490.0 L450.6,490.8 L452.2,491.5 L453.7,492.2 L455.3,492.9 L456.9,493.5 L458.5,494.2 L460.1,494.7 L461.8,495.2 L463.4,495.7 L465.0,496.2 L466.7,496.6 L468.4,496.9 L470.1,497.2 L471.7,497.5 L473.4,497.8 L475.1,498.0 L476.8,498.1 L478.6,498.2 L480.3,498.3 L482.0,498.3 L483.7,498.3 L485.4,498.3 L487.1,498.2 L488.8,498.1 L490.5,497.9 L492.2,497.7 L493.9,497.5 L495.6,497.2 L497.3,496.9 L499.0,496.5 L500.7,496.1 L502.3,495.7 L504.0,495.2 L505.6,494.7 L507.3,494.2 L508.9,493.6 L510.5,493.0 L512.1,492.4 L513.7,491.7 L515.3,491.0 L516.8,490.3 L518.4,489.6 L519.9,488.9 L521.5,488.2 L523.0,487.5 L524.6,486.8 L526.2,486.1 L527.7,485.5 L529.3,484.8 L530.9,484.3 L532.5,483.7 L534.2,483.2 L535.8,482.8 L537.4,482.4 L539.1,482.0 L540.8,481.7 L542.4,481.4 L544.1,481.2 L545.8,481.0 L547.5,480.8 L549.2,480.7 L550.9,480.7 L552.6,480.6 L554.3,480.7 L556.0,480.7 L557.7,480.8 L559.4,481.0 L561.1,481.2 L562.8,481.4 L564.5,481.7 L566.2,482.0 L567.9,482.4 L569.6,482.8 L571.3,483.3 L573.0,483.8 L574.7,484.3 L576.3,484.9 L578.0,485.5 L579.6,486.1 L581.3,486.7 L582.9,487.4 L584.6,488.0 L586.2,488.7 L587.9,489.3 L589.5,490.0 L591.1,490.6 L592.8,491.2 L594.4,491.8 L596.0,492.4 L597.6,492.9 L599.3,493.4 L600.9,493.8 L602.5,494.3 L604.1,494.6 L605.7,494.9 L607.4,495.2 L609.0,495.3 L610.6,495.5 L612.3,495.5 L613.9,495.5 L615.5,495.4 L617.1,495.3 L618.8,495.1 L620.4,494.9 L622.0,494.6 L623.7,494.3 L625.3,493.9 L627.0,493.5 L628.6,493.1 L630.2,492.6 L631.9,492.1 L633.5,491.6 L635.2,491.1 L636.8,490.5 L638.5,490.0 L640.1,489.4 L641.8,488.8 L643.4,488.2 L645.1,487.5 L646.7,486.9 L648.4,486.3 L650.0,485.7 L651.7,485.1 L653.3,484.5 L655.0,483.9 L656.6,483.3 L658.3,482.8 L660.0,482.2 L661.6,481.6 L663.3,481.1 L664.9,480.6 L666.6,480.0 L668.3,479.5 L669.9,479.0 L671.6,478.6 L673.2,478.1 L674.9,477.7 L676.6,477.3 L678.2,476.8 L679.9,476.5 L681.6,476.1 L683.2,475.7 L684.9,475.4 L686.6,475.1 L688.2,474.8 L689.9,474.6 L691.6,474.4 L693.2,474.2 L694.9,474.0 L696.6,473.8 L698.3,473.7 L699.9,473.6 L701.6,473.6 L703.3,473.5 L704.9,473.5 L706.6,473.5 L708.3,473.6 L710.0,473.7 L711.6,473.8 L713.3,474.0 L715.0,474.2 L716.6,474.4 L718.3,474.7 L720.0,475.0 L721.7,475.4 L723.3,475.8 L725.0,476.2 L726.7,476.7 L728.4,477.2 L730.0,477.7 L731.7,478.2 L733.4,478.8 L735.0,479.3 L736.7,479.9 L738.4,480.5 L740.1,481.1 L741.7,481.6 L743.4,482.2 L745.1,482.7 L746.7,483.2 L748.4,483.7 L750.1,484.2 L751.7,484.6 L753.4,485.1 L755.0,485.5 L756.7,485.9 L758.3,486.4 L760.0,486.8 L761.6,487.3 L763.2,487.8 L764.8,488.3 L766.3,488.9 L767.9,489.5 L769.5,490.2 L771.0,490.8 L772.5,491.5 L774.0,492.3 L775.5,493.0 L777.0,493.8 L778.5,494.6 L780.0,495.5 L781.5,496.3 L783.0,497.2 L784.5,498.0 L785.9,498.9 L787.4,499.8 L788.9,500.7 L790.3,501.7 L791.8,502.6 L793.3,503.5 L794.8,504.4 L796.2,505.4 L797.7,506.3 L799.2,507.2 L800.7,508.2 L802.2,509.1 L803.7,510.0 L805.2,510.9 L806.7,511.8 L808.2,512.7 L809.8,513.5 L811.3,514.3 L812.9,515.1 L814.4,515.8 L816.0,516.5 L817.6,517.1 L819.1,517.6 L820.7,518.1 L822.3,518.5 L824.0,518.8 L825.6,519.0 L827.2,519.1 L828.8,519.1 L830.5,518.9 L832.1,518.7 L833.8,518.4 L835.4,518.0 L837.1,517.4 L838.7,516.9 L840.3,516.2 L841.9,515.5 L843.5,514.7 L845.1,513.9 L846.6,513.1 L848.1,512.2 L849.5,511.3 L851.0,510.3 L852.4,509.4 L853.8,508.4 L855.2,507.4 L856.6,506.4 L857.9,505.3 L859.3,504.3 L860.6,503.2 L862.0,502.2 L863.3,501.1 L864.7,500.1 L866.0,499.0 L867.4,498.0 L868.7,496.9 L870.1,495.9 L871.5,494.8 L872.9,493.8 L874.3,492.8 L875.7,491.8 L877.2,490.9 L878.6,489.9 L880.1,489.0 L881.5,488.1 L883.0,487.2 L884.5,486.3 L886.0,485.5 L887.5,484.7 L889.0,483.9 L890.6,483.2 L892.1,482.4 L893.7,481.8 L895.2,481.1 L896.8,480.5 L898.4,480.0 L900.0,479.5 L901.6,479.0 L903.2,478.6 L904.9,478.2 L906.5,477.9 L908.2,477.6 L909.8,477.4 L911.5,477.2 L913.2,477.0 L914.9,476.9 L916.6,476.8 L918.3,476.8 L920.0,476.8 L921.7,476.8 L923.5,476.9 L925.2,476.9 L926.9,477.0 L928.7,477.2 L930.4,477.3 L932.2,477.4 L933.9,477.6 L935.7,477.8 L937.4,477.9 L939.1,478.1 L940.9,478.3 L942.6,478.5 L944.4,478.7 L946.1,478.8 L947.8,479.0 L949.5,479.2 L951.3,479.3 L953.0,479.5 L954.7,479.6 L956.4,479.7 L958.1,479.8 L959.8,479.9 L961.5,480.0 L963.2,480.0 L964.9,480.0 L966.6,480.1 L968.3,480.1 L970.0,480.0 L971.6,480.0 L973.3,479.9 L975.0,479.8 L976.7,479.7 L978.4,479.6 L980.1,479.4 L981.8,479.2 L983.5,479.0 L985.2,478.8 L986.9,478.5 L988.6,478.2 L990.3,477.9 L992.0,477.6 L993.7,477.2 L995.4,476.9 L997.1,476.6 L998.8,476.2 L1000.5,475.9 L1002.2,475.6 L1003.9,475.3 L1005.6,475.1 L1007.3,474.8 L1009.1,474.6 L1010.8,474.5 L1012.5,474.3 L1014.2,474.2 L1015.9,474.1 L1017.6,474.0 L1019.3,474.0 L1021.0,474.0 L1022.7,474.0 L1024.4,474.0 L1026.1,474.0 L1027.8,474.1 L1029.5,474.1 L1031.2,474.2 L1032.9,474.3 L1034.6,474.4 L1036.3,474.5 L1038.0,474.7 L1039.7,474.8 L1041.4,475.0 L1043.1,475.1 L1044.8,475.3 L1046.5,475.5 L1048.2,475.7 L1049.9,475.9 L1051.6,476.1 L1053.3,476.4 L1055.0,476.6 L1056.7,476.8 L1058.4,477.1 L1060.1,477.3 L1061.8,477.6 L1063.5,477.8 L1065.2,478.1 L1066.9,478.4 L1068.6,478.6 L1070.3,478.9 L1072.0,479.2 L1073.7,479.5 L1075.4,479.7 L1077.1,480.0 L1078.8,480.3 L1080.5,480.5 L1082.2,480.8 L1083.9,481.1 L1085.6,481.3 L1087.3,481.6 L1089.1,481.8 L1090.8,482.1 L1092.5,482.3 L1094.2,482.6 L1095.9,482.8 L1097.6,483.0 L1099.3,483.2 L1101.0,483.4 L1102.7,483.6 L1104.4,483.8 L1106.1,484.0 L1107.8,484.2 L1109.5,484.3 L1111.2,484.5 L1112.9,484.6 L1114.6,484.7 L1116.3,484.8 L1118.1,484.9 L1119.8,485.0 L1121.5,485.1 L1123.2,485.2 L1124.9,485.3 L1126.6,485.3 L1128.3,485.4 L1130.0,485.4 L1131.7,485.5 L1133.5,485.5 L1135.2,485.5 L1136.9,485.6 L1138.6,485.6 L1140.3,485.6 L1142.0,485.6 L1143.7,485.6 L1145.4,485.6 L1147.2,485.6 L1148.9,485.5 L1150.6,485.5 L1152.3,485.5 L1154.0,485.5 L1155.7,485.5 L1157.4,485.4 L1159.2,485.4 L1160.9,485.3 L1162.6,485.3 L1164.3,485.3 L1166.0,485.2 L1167.7,485.2 L1169.4,485.1 L1171.2,485.1 L1172.9,485.0 L1174.6,485.0 L1176.3,485.0 L1178.0,484.9 L1179.7,484.9 L1181.5,484.8 L1183.2,484.8 L1184.9,484.7 L1186.6,484.7 L1188.3,484.7 L1190.0,484.6 L1191.8,484.6 L1193.5,484.6 L1195.2,484.5 L1196.9,484.5 L1198.6,484.5 L1200.3,484.5 L1202.0,484.5 L1203.8,484.4 L1205.5,484.4 L1207.2,484.4 L1208.9,484.4 L1210.6,484.4 L1212.3,484.4 L1214.1,484.4 L1215.8,484.4 L1217.5,484.4 L1219.2,484.5 L1220.9,484.5 L1222.6,484.5 L1224.4,484.5 L1226.1,484.5 L1227.8,484.5 L1229.5,484.6 L1231.2,484.6 L1232.9,484.6 L1234.6,484.6 L1236.4,484.7 L1238.1,484.7 L1239.8,484.7 L1241.5,484.7 L1243.2,484.8 L1244.9,484.8 L1246.7,484.8 L1248.4,484.9 L1250.1,484.9 L1251.8,484.9 L1253.5,485.0 L1255.2,485.0 L1257.0,485.1 L1258.7,485.1 L1260.4,485.1 L1262.1,485.2 L1263.8,485.2 L1265.5,485.2 L1267.2,485.3 L1269.0,485.3 L1270.7,485.3 L1272.4,485.4 L1274.1,485.4 L1275.8,485.4 L1277.5,485.5 L1279.3,485.5 L1281.0,485.5 L1282.7,485.6 L1284.4,485.6 L1286.1,485.6 L1287.8,485.7 L1289.6,485.7 L1291.3,485.7 L1293.0,485.7 L1294.7,485.8 L1296.4,485.8 L1298.1,485.8 L1299.9,485.8 L1301.6,485.8 L1303.3,485.9 L1305.0,485.9 L1306.7,485.9 L1308.4,485.9 L1310.2,485.9 L1311.9,485.9 L1313.6,485.9 L1315.3,485.9 L1317.0,486.0 L1318.7,486.0 L1320.5,486.0 L1322.2,486.0 L1323.9,486.0 L1325.6,486.0 L1327.3,486.0 L1329.0,486.0 L1330.8,486.0 L1332.5,486.0 L1334.2,486.0 L1335.9,486.0 L1337.6,486.0 L1339.3,486.0 L1341.1,486.0 L1342.8,486.0 L1344.5,486.0 L1346.2,486.0 L1347.9,486.0 L1349.6,486.0 L1351.4,486.0 L1353.1,486.0 L1354.8,486.0 L1356.5,486.0 L1358.2,486.0 L1359.9,486.0 L1361.7,486.0 L1363.4,485.9 L1365.1,485.9 L1366.8,485.9 L1368.5,485.9 L1370.2,485.9 L1372.0,485.9 L1373.7,485.9 L1375.4,485.9 L1377.1,485.9 L1378.8,485.9 L1380.6,485.9 L1382.3,485.9 L1384.0,485.9 L1385.7,485.9 L1387.4,485.9 L1389.1,485.9 L1390.9,485.9 L1392.6,485.9 L1394.3,485.9 L1396.0,485.9 L1397.7,485.9 L1399.4,485.9 L1401.2,485.9 L1402.9,485.9 L1404.6,485.9 L1406.3,485.9 L1408.0,485.9 L1409.7,485.9 L1411.5,485.9 L1413.2,485.9 L1414.9,485.9 L1416.6,485.9 L1418.3,485.9 L1420.0,485.9 L1421.8,485.9 L1423.5,485.9 L1425.2,485.9 L1426.9,485.9 L1428.6,485.9 L1430.3,485.9 L1432.1,485.9 L1433.8,485.9 L1435.5,485.9 L1437.2,485.9 L1438.9,485.9 L1440.6,485.9 L1442.4,485.9 L1444.1,485.9 L1445.8,485.9 L1447.5,485.9 L1449.2,485.9 L1450.9,485.9 L1452.7,485.9 L1454.4,485.9 L1456.1,485.9 L1457.8,485.9 L1459.5,485.9 L1461.2,485.9 L1463.0,485.9 L1464.7,485.9 L1466.4,486.0 L1468.1,486.0 L1469.8,486.0 L1471.5,486.0 L1473.3,486.0 L1475.0,486.0 L1476.7,486.0 L1478.4,486.0 L1480.1,486.0 L1481.8,486.0 L1483.6,486.0 L1485.3,486.0 L1487.0,486.0 L1488.7,486.0 L1490.4,486.0 L1492.1,486.0 L1493.9,486.0 L1495.6,486.0 L1497.3,486.0 L1499.0,486.0 L1500.7,486.0 L1502.4,486.0 L1504.2,486.0 L1505.9,486.0 L1507.6,486.0 L1509.3,486.1 L1511.0,486.1 L1512.7,486.1 L1514.5,486.1 L1516.2,486.1 L1517.9,486.1 L1519.6,486.1 L1521.3,486.1 L1523.0,486.1 L1524.8,486.1 L1526.5,486.1 L1528.2,486.1 L1529.9,486.1 L1531.6,486.1 L1533.3,486.1 L1535.1,486.1 L1536.8,486.1 L1538.5,486.1 L1540.2,486.1 L1541.9,486.1 L1543.6,486.1 L1545.4,486.1 L1547.1,486.1 L1548.8,486.1 L1550.5,486.1 L1552.2,486.1 L1553.9,486.1 L1555.7,486.1 L1557.4,486.1 L1559.1,486.1 L1560.8,486.1 L1562.5,486.0 L1564.2,486.0 L1566.0,486.0 L1567.7,486.0 L1569.4,486.0 L1571.1,486.0 L1572.8,486.0 L1574.5,486.0 L1576.3,486.0 L1578.0,486.0 L1579.7,486.0 L1581.4,486.0 L1583.1,486.0 L1584.8,486.0 L1586.6,486.0 L1588.3,485.9 L1590.0,485.9 L1591.7,485.9 L1593.4,485.9 L1595.1,485.9 L1596.0,485.9" stroke="#0000ff" stroke-width="7.0"/>
<path d="M290.7,489.0 L290.9,487.4 L291.0,485.8 L291.2,484.3 L291.4,482.7 L291.6,481.1 L291.7,479.6 L291.9,478.0 L292.1,476.4 L292.2,474.9 L292.4,473.3 L292.6,471.7 L292.7,470.2 L292.9,468.6 L293.1,467.0 L293.2,465.5 L293.4,463.9 L293.5,462.3 L293.7,460.7 L293.9,459.2 L294.0,457.6 L294.2,456.0 L294.3,454.5 L294.5,452.9 L294.6,451.3 L294.8,449.8 L294.9,448.2 L295.1,446.6 L295.2,445.0 L295.4,443.5 L295.5,441.9 L295.7,440.3 L295.8,438.8 L296.0,437.2 L296.1,435.6 L296.3,434.0 L296.4,432.5 L296.6,430.9 L296.7,429.3 L296.9,427.8 L297.0,426.2 L297.2,424.6 L297.3,423.0 L297.5,421.5 L297.6,419.9 L297.8,418.3 L297.9,416.8 L298.1,415.2 L298.2,413.6 L298.4,412.0 L298.5,410.5 L298.6,408.9 L298.8,407.3 L298.9,405.8 L299.1,404.2 L299.2,402.6 L299.4,401.0 L299.5,399.5 L299.7,397.9 L299.8,396.3 L300.0,394.8 L300.1,393.2 L300.3,391.6 L300.4,390.0 L300.6,388.5 L300.7,386.9 L300.9,385.3 L301.0,383.8 L301.2,382.2 L301.3,380.6 L301.5,379.0 L301.6,377.5 L301.8,375.9 L301.9,374.3 L302.1,372.8 L302.2,371.2 L302.4,369.6 L302.5,368.0 L302.7,366.5 L302.8,364.9 L303.0,363.3 L303.2,361.8 L303.3,360.2 L303.5,358.6 L303.6,357.1 L303.8,355.5 L304.0,353.9 L304.1,352.3 L304.3,350.8 L304.5,349.2 L304.6,347.6 L304.8,346.1 L305.0,344.5 L305.1,342.9 L305.3,341.4 L305.5,339.8 L305.6,338.2 L305.8,336.7 L306.0,335.1 L306.2,333.5 L306.3,332.0 L306.5,330.4 L306.7,328.8 L306.9,327.2 L307.1,325.7 L307.2,324.1 L307.4,322.5 L307.6,321.0 L307.8,319.4 L308.0,317.8 L308.2,316.3 L308.4,314.7 L308.6,313.2 L308.8,311.6 L309.0,310.0 L309.2,308.5 L309.4,306.9 L309.6,305.3 L309.8,303.8 L310.0,302.2 L310.2,300.6 L310.4,299.1 L310.7,297.5 L310.9,296.0 L311.1,294.4 L311.4,292.8 L311.6,291.3 L311.9,289.7 L312.1,288.2 L312.4,286.6 L312.6,285.1 L312.9,283.5 L313.1,281.9 L313.4,280.4 L313.7,278.8 L314.0,277.3 L314.3,275.7 L314.6,274.2 L314.9,272.6 L315.2,271.1 L315.5,269.6 L315.8,268.0 L316.1,266.5 L316.5,264.9 L316.8,263.4 L317.2,261.8 L317.5,260.3 L317.9,258.8 L318.2,257.2 L318.6,255.7 L319.0,254.2 L319.4,252.6 L319.8,251.1 L320.2,249.6 L320.6,248.0 L321.0,246.5 L321.5,245.0 L321.9,243.5 L322.3,241.9 L322.8,240.4 L323.3,238.9 L323.8,237.4 L324.3,235.9 L324.8,234.4 L325.3,232.9 L325.9,231.4 L326.5,230.0 L327.1,228.5 L327.7,227.1 L328.4,225.7 L329.1,224.2 L329.8,222.9 L330.6,221.5 L331.4,220.1 L332.2,218.8 L333.1,217.5 L334.0,216.3 L335.1,215.2 L336.2,214.2 L338.9,212.8 L340.4,212.4 L342.0,212.2 L343.7,212.2 L345.3,212.5 L346.8,212.9 L348.3,213.6 L349.6,214.4 L350.8,215.3 L352.0,216.4 L353.0,217.5 L354.0,218.7 L355.0,220.0 L355.9,221.2 L356.8,222.5 L357.6,223.8 L358.3,225.2 L359.1,226.6 L359.8,228.0 L360.5,229.4 L361.1,230.8 L361.7,232.3 L362.3,233.7 L362.9,235.2 L363.5,236.7 L364.1,238.2 L364.7,239.7 L365.2,241.2 L365.8,242.7 L366.4,244.2 L367.0,245.7 L367.6,247.1 L368.2,248.6 L368.9,250.0 L369.5,251.5 L370.2,252.9 L370.9,254.3 L371.6,255.8 L372.3,257.2 L373.0,258.6 L373.7,260.0 L374.4,261.4 L375.0,262.8 L375.7,264.2 L376.4,265.6 L377.0,267.1 L377.7,268.5 L378.3,269.9 L378.9,271.4 L379.5,272.9 L380.0,274.3 L380.6,275.8 L381.1,277.3 L381.6,278.8 L382.1,280.3 L382.6,281.8 L383.1,283.3 L383.6,284.8 L384.1,286.3 L384.6,287.8 L385.0,289.3 L385.5,290.8 L386.0,292.3 L386.4,293.8 L386.9,295.4 L387.3,296.9 L387.8,298.4 L388.2,299.9 L388.7,301.4 L389.2,302.9 L389.6,304.5 L390.1,306.0 L390.6,307.5 L391.1,309.0 L391.6,310.5 L392.1,312.0 L392.6,313.5 L393.1,315.0 L393.6,316.5 L394.1,318.0 L394.6,319.4 L395.1,320.9 L395.7,322.4 L396.2,323.9 L396.7,325.4 L397.3,326.9 L397.8,328.4 L398.3,329.8 L398.9,331.3 L399.4,332.8 L400.0,334.3 L400.5,335.7 L401.1,337.2 L401.6,338.7 L402.2,340.2 L402.7,341.6 L403.3,343.1 L403.8,344.6 L404.4,346.1 L404.9,347.5 L405.5,349.0 L406.1,350.5 L406.6,351.9 L407.2,353.4 L407.7,354.9 L408.3,356.4 L408.8,357.8 L409.4,359.3 L410.0,360.8 L410.5,362.3 L411.1,363.7 L411.6,365.2 L412.2,366.7 L412.7,368.2 L413.2,369.6 L413.8,371.1 L414.3,372.6 L414.9,374.1 L415.4,375.6 L415.9,377.1 L416.5,378.5 L417.0,380.0 L417.5,381.5 L418.0,383.0 L418.5,384.5 L419.1,386.0 L419.6,387.5 L420.1,389.0 L420.6,390.5 L421.1,392.0 L421.6,393.5 L422.1,394.9 L422.6,396.4 L423.2,397.9 L423.7,399.4 L424.2,400.9 L424.7,402.4 L425.2,403.9 L425.7,405.4 L426.2,406.9 L426.8,408.4 L427.3,409.9 L427.8,411.3 L428.4,412.8 L428.9,414.3 L429.4,415.8 L430.0,417.3 L430.5,418.7 L431.1,420.2 L431.6,421.7 L432.2,423.2 L432.7,424.6 L433.3,426.1 L433.9,427.6 L434.4,429.0 L435.0,430.5 L435.6,432.0 L436.2,433.4 L436.7,434.9 L437.3,436.4 L437.9,437.8 L438.5,439.3 L439.0,440.8 L439.6,442.2 L440.2,443.7 L440.8,445.2 L441.3,446.6 L441.9,448.1 L442.5,449.6 L443.1,451.0 L443.6,452.5 L444.2,454.0 L444.8,455.4 L445.3,456.9 L445.9,458.4 L446.5,459.9 L447.0,461.3 L447.6,462.8 L448.2,464.3 L448.7,465.8 L449.3,467.3 L449.8,468.7 L450.4,470.2 L451.0,471.7 L451.5,473.2 L452.1,474.7 L452.6,476.1 L453.2,477.6 L453.7,479.1 L454.2,480.6 L454.8,482.1 L455.3,483.6 L455.8,485.1 L456.4,486.6 L456.9,488.0 L457.4,489.5 L458.0,491.0 L458.5,492.5 L459.0,494.0 L459.5,495.5 L460.0,497.0 L460.5,498.5 L461.0,500.0 L461.5,501.5 L462.0,503.0 L462.5,504.5 L463.0,506.0 L463.5,507.5 L464.0,509.0 L464.5,510.5 L465.0,512.0 L465.4,513.5 L465.9,515.0 L466.4,516.5 L466.8,518.0 L467.3,519.5 L467.8,521.0 L468.2,522.5 L468.7,524.0 L469.1,525.5 L469.6,527.0 L470.0,528.5 L470.4,530.0 L470.9,531.5 L471.3,533.1 L471.8,534.6 L472.2,536.1 L472.6,537.6 L473.1,539.1 L473.5,540.6 L473.9,542.1 L474.4,543.6 L474.8,545.1 L475.3,546.6 L475.7,548.1 L476.2,549.7 L476.6,551.2 L477.1,552.7 L477.5,554.2 L478.0,555.7 L478.4,557.2 L478.9,558.7 L479.4,560.2 L479.8,561.7 L480.3,563.2 L480.8,564.7 L481.3,566.2 L481.8,567.7 L482.3,569.2 L482.8,570.7 L483.3,572.2 L483.8,573.7 L484.4,575.2 L484.9,576.7 L485.4,578.2 L486.0,579.7 L486.6,581.2 L487.1,582.7 L487.7,584.2 L488.3,585.6 L488.9,587.1 L489.5,588.6 L490.1,590.1 L490.7,591.6 L491.4,593.1 L492.0,594.5 L492.7,596.0 L493.4,597.5 L494.0,599.0 L494.8,600.4 L495.5,601.8 L496.3,603.2 L497.1,604.5 L498.0,605.8 L498.9,607.0 L499.9,608.1 L502.2,610.1 L504.7,611.6 L506.2,612.2 L507.7,612.5 L509.2,612.6 L510.7,612.4 L512.1,611.9 L513.5,611.3 L514.9,610.5 L516.1,609.6 L517.3,608.6 L518.4,607.5 L519.4,606.4 L520.4,605.2 L521.3,603.9 L522.1,602.6 L522.9,601.2 L523.7,599.8 L524.4,598.3 L525.1,596.8 L525.8,595.3 L526.4,593.8 L527.1,592.3 L527.7,590.8 L528.3,589.3 L529.0,587.8 L529.6,586.3 L530.3,584.8 L530.9,583.4 L531.6,582.0 L532.2,580.5 L532.9,579.1 L533.5,577.7 L534.2,576.3 L534.9,574.9 L535.6,573.5 L536.3,572.2 L536.9,570.8 L537.6,569.4 L538.3,568.0 L539.0,566.7 L539.8,565.3 L540.5,563.9 L541.2,562.6 L541.9,561.2 L542.7,559.9 L543.4,558.5 L544.2,557.1 L544.9,555.7 L545.7,554.3 L546.5,553.0 L547.3,551.6 L548.1,550.2 L548.9,548.7 L549.7,547.3 L550.5,545.9 L551.3,544.5 L552.2,543.1 L553.1,541.7 L554.0,540.4 L554.9,539.1 L555.9,537.8 L556.8,536.5 L557.9,535.3 L558.9,534.2 L560.0,533.1 L561.1,532.0 L562.3,531.0 L563.5,530.1 L564.8,529.3 L566.1,528.5 L567.5,527.8 L568.9,527.2 L570.4,526.7 L571.9,526.3 L573.4,526.0 L575.0,525.8 L576.5,525.8 L578.1,525.9 L579.6,526.1 L581.1,526.5 L582.6,527.0 L584.0,527.7 L585.3,528.5 L586.6,529.5 L587.9,530.6 L589.1,531.7 L590.3,532.9 L591.5,534.1 L592.7,535.2 L593.9,536.4 L595.0,537.5 L596.1,538.6 L597.2,539.7 L598.3,540.8 L599.4,541.9 L600.4,543.0 L601.5,544.1 L602.5,545.2 L603.5,546.4 L604.5,547.6 L605.4,548.8 L606.4,550.0 L607.3,551.3 L608.3,552.6 L609.2,553.9 L610.1,555.2 L611.0,556.6 L611.9,557.9 L612.8,559.3 L613.7,560.6 L614.6,562.0 L615.5,563.3 L616.5,564.6 L617.4,565.9 L618.4,567.2 L619.4,568.4 L620.5,569.6 L621.6,570.7 L622.7,571.8 L623.9,572.9 L625.1,573.8 L626.3,574.7 L627.6,575.5 L629.0,576.3 L630.4,577.0 L631.8,577.5 L633.3,578.0 L634.9,578.3 L636.4,578.6 L637.9,578.7 L639.5,578.6 L641.0,578.4 L643.8,577.6 L645.2,576.9 L646.4,576.0 L647.6,575.0 L648.8,573.8 L650.0,572.7 L651.1,571.4 L652.2,570.2 L653.3,568.9 L654.5,567.7 L655.6,566.5 L656.7,565.3 L657.8,564.2 L659.0,563.0 L660.1,561.9 L661.2,560.7 L662.2,559.6 L663.3,558.4 L664.4,557.3 L665.4,556.1 L666.4,554.9 L667.4,553.7 L668.3,552.5 L669.3,551.3 L670.2,550.0 L671.1,548.8 L672.0,547.6 L672.9,546.3 L673.8,545.1 L674.7,543.8 L675.6,542.5 L676.5,541.3 L677.4,540.0 L678.4,538.8 L679.3,537.5 L680.3,536.3 L681.2,535.0 L682.3,533.8 L683.3,532.6 L684.4,531.4 L685.5,530.2 L686.6,529.0 L687.8,527.8 L689.0,526.7 L690.3,525.6 L691.5,524.5 L692.9,523.5 L694.2,522.6 L695.6,521.7 L697.0,521.0 L698.4,520.4 L699.8,519.9 L702.7,519.3 L705.7,519.4 L708.6,520.0 L710.1,520.6 L711.5,521.2 L712.9,521.9 L714.3,522.7 L715.7,523.5 L717.0,524.4 L718.3,525.3 L719.5,526.3 L720.7,527.3 L721.9,528.3 L723.0,529.4 L724.2,530.5 L725.3,531.6 L726.3,532.8 L727.4,534.0 L728.4,535.2 L729.3,536.5 L730.3,537.7 L731.2,539.0 L732.1,540.3 L733.0,541.7 L733.9,543.0 L734.7,544.4 L735.5,545.7 L736.3,547.1 L737.1,548.5 L737.9,549.9 L738.6,551.3 L739.3,552.7 L740.0,554.1 L740.7,555.6 L741.4,557.0 L742.0,558.4 L742.7,559.9 L743.3,561.3 L743.9,562.8 L744.5,564.2 L745.1,565.7 L745.6,567.1 L746.2,568.6 L746.7,570.1 L747.3,571.6 L747.8,573.0 L748.3,574.5 L748.8,576.0 L749.3,577.5 L749.8,579.0 L750.3,580.5 L750.8,582.0 L751.2,583.5 L751.7,585.0 L752.1,586.5 L752.6,588.0 L753.0,589.5 L753.5,591.0 L753.9,592.6 L754.3,594.1 L754.8,595.6 L755.2,597.1 L755.6,598.6 L756.0,600.2 L756.5,601.7 L756.9,603.2 L757.3,604.7 L757.7,606.2 L758.2,607.8 L758.6,609.3 L759.0,610.8 L759.5,612.3 L759.9,613.8 L760.3,615.4 L760.8,616.9 L761.2,618.4 L761.7,619.9 L762.1,621.4 L762.6,622.9 L763.1,624.4 L763.5,626.0 L764.0,627.5 L764.4,629.0 L764.9,630.5 L765.3,632.0 L765.8,633.5 L766.2,635.0 L766.7,636.6 L767.1,638.1 L767.6,639.6 L768.0,641.1 L768.4,642.6 L768.9,644.1 L769.3,645.7 L769.7,647.2 L770.1,648.7 L770.6,650.2 L771.0,651.8 L771.4,653.3 L771.7,654.8 L772.1,656.3 L772.5,657.9 L772.9,659.4 L773.2,660.9 L773.6,662.5 L773.9,664.0 L774.3,665.5 L774.6,667.1 L774.9,668.6 L775.3,670.2 L775.6,671.7 L775.9,673.2 L776.2,674.8 L776.5,676.3 L776.8,677.9 L777.1,679.4 L777.4,681.0 L777.7,682.5 L778.0,684.1 L778.3,685.6 L778.6,687.2 L778.9,688.7 L779.2,690.3 L779.4,691.8 L779.7,693.4 L780.0,694.9 L780.3,696.5 L780.5,698.0 L780.8,699.6 L781.1,701.1 L781.3,702.7 L781.6,704.3 L781.9,705.8 L782.2,707.4 L782.4,708.9 L782.7,710.5 L782.9,712.0 L783.2,713.6 L783.5,715.1 L783.7,716.7 L784.0,718.3 L784.2,719.8 L784.5,721.4 L784.8,722.9 L785.0,724.5 L785.3,726.0 L785.5,727.6 L785.8,729.2 L786.0,730.7 L786.3,732.3 L786.6,733.8 L786.8,735.4 L787.1,737.0 L787.3,738.5 L787.6,740.1 L787.8,741.6 L788.1,743.2 L788.3,744.7 L788.6,746.3 L788.9,747.9 L789.1,749.4 L789.4,751.0 L789.6,752.5 L789.9,754.1 L790.2,755.6 L790.4,757.2 L790.7,758.8 L790.9,760.3 L791.2,761.9 L791.5,763.4 L791.7,765.0 L792.0,766.5 L792.3,768.1 L792.5,769.6 L792.8,771.2 L793.1,772.8 L793.4,774.3 L793.6,775.9 L793.9,777.4 L794.2,779.0 L794.5,780.5 L794.8,782.1 L795.0,783.6 L795.3,785.2 L795.6,786.7 L795.9,788.3 L796.2,789.8 L796.5,791.4 L796.7,792.9 L797.0,794.5 L797.3,796.0 L797.6,797.6 L797.9,799.1 L798.2,800.7 L798.5,802.2 L798.8,803.8 L799.1,805.3 L799.4,806.9 L799.7,808.4 L800.0,810.0 L800.3,811.5 L800.6,813.1 L800.9,814.6 L801.2,816.2 L801.5,817.7 L801.8,819.3 L802.1,820.8 L802.4,822.4 L802.7,823.9 L803.0,825.5 L803.3,827.0 L803.6,828.6 L803.9,830.1 L804.2,831.7 L804.5,833.2 L804.8,834.8 L805.1,836.3 L805.4,837.9 L805.7,839.4 L806.0,841.0 L806.4,842.5 L806.7,844.1 L807.0,845.6 L807.3,847.2 L807.6,848.7 L807.9,850.3 L808.2,851.8 L808.5,853.4 L808.9,854.9 L809.2,856.5 L809.5,858.0 L809.8,859.6 L810.2,861.1 L810.5,862.7 L810.8,864.2 L811.2,865.7 L811.5,867.3 L811.8,868.8 L812.2,870.4 L812.5,871.9 L812.9,873.4 L813.2,875.0 L813.6,876.5 L814.0,878.0 L814.3,879.6 L814.7,881.1 L815.1,882.6 L815.5,884.1 L815.9,885.6 L816.3,887.1 L816.7,888.6 L817.1,890.2 L817.5,891.7 L817.9,893.2 L818.4,894.7 L818.8,896.2 L819.2,897.7 L819.7,899.2 L820.2,900.7 L820.6,902.2 L821.1,903.7 L821.6,905.2 L822.1,906.7 L822.6,908.2 L823.1,909.8 L823.6,911.3 L824.2,912.8 L824.7,914.3 L825.3,915.9 L825.9,917.4 L826.5,918.9 L827.1,920.4 L827.8,921.9 L828.5,923.3 L829.3,924.7 L830.1,926.1 L831.0,927.4 L832.0,928.6 L833.0,929.8 L834.2,930.9 L835.4,932.0 L836.7,932.9 L838.0,933.7 L840.6,934.6 L843.0,934.2 L845.0,932.7 L846.7,930.4 L847.5,929.0 L848.3,927.6 L849.0,926.0 L849.7,924.5 L850.5,923.0 L851.2,921.4 L851.8,919.9 L852.5,918.4 L853.2,916.9 L853.9,915.4 L854.5,913.9 L855.2,912.4 L855.8,910.9 L856.4,909.4 L857.0,907.9 L857.7,906.5 L858.3,905.0 L858.9,903.5 L859.5,902.0 L860.0,900.6 L860.6,899.1 L861.2,897.6 L861.8,896.2 L862.3,894.7 L862.9,893.3 L863.4,891.8 L864.0,890.3 L864.5,888.9 L865.1,887.4 L865.6,885.9 L866.1,884.5 L866.6,883.0 L867.2,881.5 L867.7,880.1 L868.2,878.6 L868.7,877.1 L869.2,875.6 L869.7,874.2 L870.2,872.7 L870.7,871.2 L871.2,869.7 L871.7,868.2 L872.2,866.7 L872.7,865.3 L873.2,863.8 L873.7,862.3 L874.1,860.8 L874.6,859.3 L875.1,857.8 L875.6,856.3 L876.0,854.8 L876.5,853.3 L877.0,851.8 L877.4,850.3 L877.9,848.8 L878.4,847.3 L878.8,845.7 L879.3,844.2 L879.7,842.7 L880.2,841.2 L880.6,839.7 L881.1,838.2 L881.5,836.7 L882.0,835.2 L882.4,833.6 L882.9,832.1 L883.3,830.6 L883.8,829.1 L884.2,827.6 L884.6,826.0 L885.1,824.5 L885.5,823.0 L886.0,821.5 L886.4,820.0 L886.8,818.4 L887.3,816.9 L887.7,815.4 L888.2,813.9 L888.6,812.4 L889.0,810.8 L889.5,809.3 L889.9,807.8 L890.3,806.3 L890.8,804.7 L891.2,803.2 L891.6,801.7 L892.1,800.2 L892.5,798.7 L892.9,797.1 L893.4,795.6 L893.8,794.1 L894.3,792.6 L894.7,791.1 L895.1,789.5 L895.6,788.0 L896.0,786.5 L896.5,785.0 L896.9,783.5 L897.3,782.0 L897.8,780.4 L898.2,778.9 L898.7,777.4 L899.1,775.9 L899.6,774.4 L900.0,772.9 L900.5,771.4 L900.9,769.9 L901.4,768.4 L901.8,766.8 L902.3,765.3 L902.7,763.8 L903.2,762.3 L903.7,760.8 L904.1,759.3 L904.6,757.8 L905.1,756.3 L905.5,754.8 L906.0,753.3 L906.5,751.8 L906.9,750.3 L907.4,748.8 L907.9,747.3 L908.4,745.8 L908.8,744.3 L909.3,742.8 L909.8,741.3 L910.3,739.8 L910.8,738.3 L911.3,736.8 L911.7,735.3 L912.2,733.8 L912.7,732.3 L913.2,730.8 L913.7,729.3 L914.2,727.8 L914.7,726.3 L915.3,724.8 L915.8,723.3 L916.3,721.8 L916.8,720.3 L917.3,718.9 L917.8,717.4 L918.4,715.9 L918.9,714.4 L919.4,712.9 L919.9,711.4 L920.5,709.9 L921.0,708.5 L921.6,707.0 L922.1,705.5 L922.7,704.0 L923.2,702.5 L923.8,701.0 L924.3,699.6 L924.9,698.1 L925.4,696.6 L926.0,695.1 L926.6,693.7 L927.2,692.2 L927.7,690.7 L928.3,689.2 L928.9,687.8 L929.5,686.3 L930.1,684.8 L930.7,683.4 L931.3,681.9 L931.9,680.4 L932.5,679.0 L933.1,677.5 L933.7,676.1 L934.3,674.6 L934.9,673.2 L935.5,671.7 L936.2,670.3 L936.8,668.8 L937.4,667.4 L938.1,665.9 L938.7,664.5 L939.4,663.0 L940.0,661.6 L940.7,660.2 L941.3,658.7 L942.0,657.3 L942.6,655.9 L943.3,654.4 L944.0,653.0 L944.7,651.6 L945.3,650.1 L946.0,648.7 L946.7,647.3 L947.4,645.9 L948.1,644.5 L948.8,643.1 L949.5,641.7 L950.2,640.3 L950.9,638.9 L951.7,637.5 L952.4,636.1 L953.1,634.7 L953.8,633.3 L954.6,631.9 L955.3,630.5 L956.1,629.1 L956.8,627.7 L957.6,626.4 L958.3,625.0 L959.1,623.6 L959.8,622.2 L960.6,620.9 L961.4,619.5 L962.2,618.1 L962.9,616.8 L963.7,615.4 L964.5,614.0 L965.3,612.7 L966.1,611.3 L966.8,610.0 L967.6,608.6 L968.4,607.3 L969.2,605.9 L970.0,604.5 L970.8,603.2 L971.6,601.8 L972.4,600.5 L973.2,599.1 L974.0,597.8 L974.7,596.4 L975.5,595.0 L976.3,593.7 L977.1,592.3 L977.9,591.0 L978.7,589.6 L979.5,588.2 L980.3,586.9 L981.1,585.5 L981.9,584.2 L982.6,582.8 L983.4,581.4 L984.2,580.0 L985.0,578.7 L985.8,577.3 L986.5,575.9 L987.3,574.5 L988.1,573.2 L988.8,571.8 L989.6,570.4 L990.3,569.0 L991.1,567.6 L991.8,566.2 L992.6,564.8 L993.3,563.4 L994.1,562.0 L994.8,560.6 L995.5,559.2 L996.3,557.8 L997.0,556.4 L997.7,554.9 L998.4,553.5 L999.1,552.1 L999.8,550.6 L1000.5,549.2 L1001.2,547.8 L1001.9,546.3 L1002.6,544.9 L1003.3,543.5 L1004.0,542.0 L1004.7,540.6 L1005.4,539.2 L1006.2,537.8 L1006.9,536.3 L1007.6,534.9 L1008.3,533.5 L1009.0,532.1 L1009.8,530.7 L1010.5,529.3 L1011.2,527.9 L1012.0,526.5 L1012.7,525.1 L1013.5,523.7 L1014.3,522.4 L1015.1,521.0 L1015.9,519.6 L1016.7,518.3 L1017.5,517.0 L1018.3,515.6 L1019.1,514.3 L1020.0,513.0 L1020.9,511.7 L1021.7,510.4 L1022.6,509.1 L1023.5,507.9 L1024.4,506.6 L1025.4,505.4 L1026.3,504.2 L1027.3,503.0 L1028.3,501.8 L1029.3,500.6 L1030.3,499.4 L1031.4,498.3 L1032.4,497.2 L1033.5,496.1 L1034.6,495.0 L1035.7,493.9 L1036.9,492.8 L1038.1,491.8 L1039.3,490.8 L1040.5,489.8 L1041.7,488.8 L1043.0,487.8 L1044.3,486.9 L1045.6,486.0 L1046.9,485.1 L1048.2,484.3 L1049.6,483.5 L1051.0,482.7 L1052.4,482.0 L1053.8,481.3 L1055.3,480.7 L1056.7,480.1 L1058.2,479.6 L1059.7,479.1 L1061.2,478.7 L1062.8,478.3 L1064.3,478.0 L1065.9,477.7 L1067.4,477.5 L1069.0,477.4 L1070.6,477.3 L1072.2,477.2 L1073.8,477.1 L1075.4,477.1 L1077.0,477.0 L1078.7,477.0 L1080.3,476.9 L1081.8,476.7 L1083.4,476.6 L1085.0,476.4 L1086.6,476.2 L1088.1,476.0 L1089.7,475.8 L1091.3,475.7 L1092.8,475.5 L1094.4,475.4 L1095.9,475.3 L1097.5,475.3 L1099.0,475.4 L1100.6,475.5 L1102.1,475.7 L1103.7,476.0 L1105.2,476.3 L1106.8,476.6 L1108.3,477.0 L1109.9,477.4 L1111.4,477.8 L1113.0,478.2 L1114.5,478.7 L1116.0,479.2 L1117.6,479.6 L1119.1,480.1 L1120.6,480.5 L1122.1,481.0 L1123.6,481.4 L1125.2,481.8 L1126.7,482.2 L1128.2,482.6 L1129.7,483.0 L1131.2,483.4 L1132.8,483.7 L1134.3,484.0 L1135.8,484.3 L1137.4,484.6 L1138.9,484.8 L1140.5,485.0 L1142.0,485.2 L1143.6,485.3 L1145.2,485.4 L1146.7,485.5 L1148.3,485.5 L1149.9,485.6 L1151.5,485.6 L1153.1,485.6 L1154.7,485.6 L1156.3,485.5 L1157.8,485.5 L1159.4,485.5 L1161.0,485.5 L1162.6,485.4 L1164.2,485.4 L1165.8,485.4 L1167.3,485.4 L1168.9,485.4 L1170.5,485.3 L1172.1,485.3 L1173.7,485.3 L1175.2,485.3 L1176.8,485.3 L1178.4,485.3 L1180.0,485.3 L1181.5,485.3 L1183.1,485.3 L1184.7,485.3 L1186.3,485.3 L1187.8,485.3 L1189.4,485.3 L1191.0,485.3 L1192.6,485.4 L1194.1,485.4 L1195.7,485.4 L1197.3,485.5 L1198.9,485.5 L1200.4,485.6 L1202.0,485.6 L1203.6,485.7 L1205.2,485.7 L1206.7,485.8 L1208.3,485.9 L1209.9,485.9 L1211.5,486.0 L1213.1,486.0 L1214.6,486.1 L1216.2,486.2 L1217.8,486.2 L1219.4,486.3 L1221.0,486.3 L1222.5,486.4 L1224.1,486.4 L1225.7,486.5 L1227.3,486.5 L1228.8,486.5 L1230.4,486.6 L1232.0,486.6 L1233.6,486.6 L1235.2,486.6 L1236.7,486.6 L1238.3,486.6 L1239.9,486.6 L1241.5,486.6 L1243.0,486.5 L1244.6,486.5 L1246.2,486.5 L1247.8,486.4 L1249.4,486.3 L1250.9,486.3 L1252.5,486.2 L1254.1,486.1 L1255.7,486.1 L1257.2,486.0 L1258.8,485.9 L1260.4,485.8 L1262.0,485.7 L1263.5,485.6 L1265.1,485.5 L1266.7,485.4 L1268.3,485.3 L1269.8,485.2 L1271.4,485.1 L1273.0,485.0 L1274.6,484.9 L1276.2,484.8 L1277.7,484.7 L1279.3,484.7 L1280.9,484.6 L1282.5,484.5 L1284.0,484.4 L1285.6,484.3 L1287.2,484.3 L1288.8,484.2 L1290.3,484.1 L1291.9,484.1 L1293.5,484.0 L1295.1,484.0 L1296.6,483.9 L1298.2,483.9 L1299.8,483.8 L1301.4,483.8 L1303.0,483.7 L1304.5,483.7 L1306.1,483.7 L1307.7,483.6 L1309.3,483.6 L1310.8,483.6 L1312.4,483.6 L1314.0,483.5 L1315.6,483.5 L1317.1,483.5 L1318.7,483.5 L1320.3,483.5 L1321.9,483.4 L1323.5,483.4 L1325.0,483.4 L1326.6,483.4 L1328.2,483.4 L1329.8,483.4 L1331.3,483.4 L1332.9,483.4 L1334.5,483.4 L1336.1,483.4 L1337.7,483.4 L1339.2,483.4 L1340.8,483.4 L1342.4,483.4 L1344.0,483.5 L1345.5,483.5 L1347.1,483.5 L1348.7,483.5 L1350.3,483.5 L1351.9,483.5 L1353.4,483.5 L1355.0,483.5 L1356.6,483.6 L1358.2,483.6 L1359.7,483.6 L1361.3,483.6 L1362.9,483.6 L1364.5,483.7 L1366.0,483.7 L1367.6,483.7 L1369.2,483.7 L1370.8,483.8 L1372.4,483.8 L1373.9,483.8 L1375.5,483.8 L1377.1,483.8 L1378.7,483.9 L1380.2,483.9 L1381.8,483.9 L1383.4,483.9 L1385.0,484.0 L1386.6,484.0 L1388.1,484.0 L1389.7,484.0 L1391.3,484.0 L1392.9,484.1 L1394.4,484.1 L1396.0,484.1 L1397.6,484.1 L1399.2,484.1 L1400.7,484.2 L1402.3,484.2 L1403.9,484.2 L1405.5,484.2 L1407.1,484.2 L1408.6,484.2 L1410.2,484.2 L1411.8,484.3 L1413.4,484.3 L1414.9,484.3 L1416.5,484.3 L1418.1,484.3 L1419.7,484.3 L1421.2,484.3 L1422.8,484.3 L1424.4,484.3 L1426.0,484.3 L1427.5,484.3 L1429.1,484.3 L1430.7,484.3 L1432.3,484.3 L1433.8,484.2 L1435.4,484.2 L1437.0,484.2 L1438.6,484.2 L1440.1,484.2 L1441.7,484.2 L1443.3,484.1 L1444.9,484.1 L1446.4,484.1 L1448.0,484.0 L1449.6,484.0 L1451.2,484.0 L1452.7,483.9 L1454.3,483.9 L1455.9,483.9 L1457.5,483.8 L1459.0,483.8 L1460.6,483.7 L1462.2,483.7 L1463.8,483.6 L1465.3,483.6 L1466.9,483.5 L1468.5,483.5 L1470.1,483.4 L1471.6,483.4 L1473.2,483.3 L1474.8,483.3 L1476.3,483.2 L1477.9,483.2 L1479.5,483.1 L1481.1,483.1 L1482.6,483.1 L1484.2,483.0 L1485.8,483.0 L1487.4,482.9 L1488.9,482.9 L1490.5,482.9 L1492.1,482.8 L1493.7,482.8 L1495.2,482.8 L1496.8,482.7 L1498.4,482.7 L1500.0,482.7 L1501.5,482.7 L1503.1,482.7 L1504.7,482.7 L1506.2,482.7 L1507.8,482.7 L1509.4,482.6 L1511.0,482.6 L1512.5,482.6 L1514.1,482.7 L1515.7,482.7 L1517.3,482.7 L1518.8,482.7 L1520.4,482.7 L1522.0,482.7 L1523.6,482.7 L1525.1,482.7 L1526.7,482.8 L1528.3,482.8 L1529.9,482.8 L1531.4,482.8 L1533.0,482.8 L1534.6,482.9 L1536.2,482.9 L1537.7,482.9 L1539.3,483.0 L1540.9,483.0 L1542.4,483.0 L1544.0,483.0 L1545.6,483.1 L1547.2,483.1 L1548.7,483.1 L1550.3,483.2 L1551.9,483.2 L1553.5,483.2 L1555.0,483.2 L1556.6,483.3 L1558.2,483.3 L1559.8,483.3 L1561.3,483.3 L1562.9,483.4 L1564.5,483.4 L1566.1,483.4 L1567.6,483.4 L1569.2,483.4 L1570.8,483.4 L1572.4,483.4 L1573.9,483.5 L1575.5,483.5 L1577.1,483.5 L1578.7,483.5 L1580.2,483.4 L1581.8,483.4 L1583.4,483.4 L1585.0,483.4 L1586.5,483.4 L1588.1,483.4 L1589.7,483.3 L1591.3,483.3 L1592.8,483.3 L1594.4,483.2 L1596.0,483.2" stroke="#ff0000" stroke-width="7.2"/>
</g>
<line x1="291.1" y1="490.0" x2="1594.0" y2="490.0" stroke="#000" stroke-width="6.8"/>
<g font-family="'Liberation Sans', Arial, Helvetica, sans-serif" font-size="81" fill="#000" stroke="#000" stroke-width="1.1">
<g><text y="79.50" font-size="81"><tspan x="169.08">2</tspan><tspan x="214.13">0</tspan></text></g>
<g><text y="295.30" font-size="81"><tspan x="169.08">1</tspan><tspan x="214.13">0</tspan></text><rect x="173.45" y="287.45" width="15.40" height="9.65" fill="#fff" stroke="none"/><rect x="197.20" y="287.45" width="14.77" height="9.65" fill="#fff" stroke="none"/></g>
<g><text y="512.20" font-size="81"><tspan x="213.73">0</tspan></text></g>
<g><text y="725.20" font-size="81"><tspan x="123.93" dy="-2.40">–</tspan><tspan x="168.98" dy="2.40">1</tspan><tspan x="214.03">0</tspan></text><rect x="173.35" y="717.35" width="15.40" height="9.65" fill="#fff" stroke="none"/><rect x="197.10" y="717.35" width="14.77" height="9.65" fill="#fff" stroke="none"/></g>
<g><text y="945.20" font-size="81"><tspan x="123.93" dy="-2.40">–</tspan><tspan x="168.98" dy="2.40">2</tspan><tspan x="214.03">0</tspan></text></g>
<g><text y="1158.00" font-size="81"><tspan x="124.18" dy="-2.40">–</tspan><tspan x="169.23" dy="2.40">3</tspan><tspan x="214.28">0</tspan></text></g>
<g><text y="505.20" font-size="81"><tspan x="1635.20">2</tspan></text></g>
<g><text y="937.30" font-size="81"><tspan x="1635.20">1</tspan></text><rect x="1639.57" y="929.45" width="15.40" height="9.65" fill="#fff" stroke="none"/><rect x="1663.33" y="929.45" width="14.77" height="9.65" fill="#fff" stroke="none"/></g>
<g><text y="1374.90" font-size="81"><tspan x="1635.20">0</tspan></text></g>
<g><text y="1445.20" font-size="81"><tspan x="275.30">3</tspan><tspan x="320.35">0</tspan><tspan x="365.40">0</tspan></text></g>
<g><text y="1445.20" font-size="81"><tspan x="776.60">4</tspan><tspan x="821.65">0</tspan><tspan x="866.70">0</tspan></text></g>
<g><text y="1445.20" font-size="81"><tspan x="1278.80">5</tspan><tspan x="1323.85">0</tspan><tspan x="1368.90">0</tspan></text></g>
<text x="669.14" y="1548" font-size="82" textLength="616.2" lengthAdjust="spacing">Wavelength (nm)</text>
<g transform="translate(76.5,720) rotate(-90)"><text y="0.00" font-size="82"><tspan x="-0.07">Δ</tspan><tspan x="63.72" font-style="italic">ε</tspan><tspan x="123.24">(</tspan><tspan x="151.10">M</tspan><tspan x="219.28" dy="-21.00" font-size="53">-</tspan><tspan x="237.40" font-size="53">1</tspan><tspan x="281.84" dy="21.00">c</tspan><tspan x="323.18">m</tspan><tspan x="390.78" dy="-21.00" font-size="53">-</tspan><tspan x="409.10" font-size="53">1</tspan><tspan x="454.75" dy="21.00">)</tspan></text><rect x="239.64" y="-26.76" width="10.49" height="7.56" fill="#fff" stroke="none"/><rect x="256.01" y="-26.76" width="10.08" height="7.56" fill="#fff" stroke="none"/><rect x="411.34" y="-26.76" width="10.49" height="7.56" fill="#fff" stroke="none"/><rect x="427.71" y="-26.76" width="10.08" height="7.56" fill="#fff" stroke="none"/></g>
<g transform="translate(1797,1240) rotate(-90)"><text y="0.00" font-size="82"><tspan x="2.02" font-style="italic">ε</tspan><tspan x="63.19">×</tspan><tspan x="133.10">1</tspan><tspan x="176.85">0</tspan><tspan x="223.13" dy="-21.00" font-size="53">-</tspan><tspan x="241.38" font-size="53">4</tspan><tspan x="292.39" dy="21.00">(</tspan><tspan x="320.60">M</tspan><tspan x="388.88" dy="-21.00" font-size="53">-</tspan><tspan x="406.50" font-size="53">1</tspan><tspan x="458.69" dy="21.00">c</tspan><tspan x="499.38">m</tspan><tspan x="567.08" dy="-21.00" font-size="53">-</tspan><tspan x="586.00" font-size="53">1</tspan><tspan x="616.45" dy="21.00">)</tspan></text><rect x="137.55" y="-7.93" width="15.57" height="9.73" fill="#fff" stroke="none"/><rect x="161.57" y="-7.93" width="14.93" height="9.73" fill="#fff" stroke="none"/><rect x="408.74" y="-26.76" width="10.49" height="7.56" fill="#fff" stroke="none"/><rect x="425.11" y="-26.76" width="10.08" height="7.56" fill="#fff" stroke="none"/><rect x="588.24" y="-26.76" width="10.49" height="7.56" fill="#fff" stroke="none"/><rect x="604.61" y="-26.76" width="10.08" height="7.56" fill="#fff" stroke="none"/></g>
<g><text y="180.50" font-size="82"><tspan x="875.14">(</tspan><tspan x="901.96">a</tspan><tspan x="949.65">)</tspan></text></g>
<g><text y="180.50" font-size="82"><tspan x="1159.88">p</tspan><tspan x="1204.60">o</tspan><tspan x="1250.67">l</tspan><tspan x="1268.33">y</tspan><tspan x="1309.20">-</tspan><tspan x="1336.77" font-weight="bold">2</tspan><tspan x="1386.53" font-style="italic">S</tspan></text></g>
<g><text y="306.60" font-size="82"><tspan x="875.14">(</tspan><tspan x="902.48">b</tspan><tspan x="949.25">)</tspan></text></g>
<g><text y="306.60" font-size="82"><tspan x="1164.75" font-style="italic">h</tspan><tspan x="1205.40">-</tspan><tspan x="1232.13">p</tspan><tspan x="1276.65">o</tspan><tspan x="1323.02">l</tspan><tspan x="1340.68">y</tspan><tspan x="1381.80">-</tspan><tspan x="1409.17" font-weight="bold">2</tspan><tspan x="1459.18" font-style="italic">S</tspan></text></g>
</g>
<line x1="998" y1="158.7" x2="1141.5" y2="158.7" stroke="#0010ff" stroke-width="6.8"/>
<line x1="998" y1="284.8" x2="1141.5" y2="284.8" stroke="#ff1000" stroke-width="6.8"/>
</g>
</svg></body></html>
